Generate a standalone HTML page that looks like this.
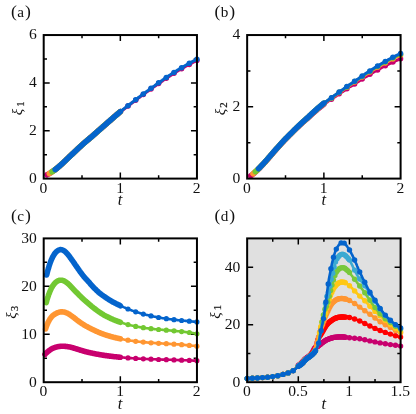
<!DOCTYPE html>
<html><head><meta charset="utf-8"><title>figure</title>
<style>
html,body{margin:0;padding:0;background:#fff;}
body{width:416px;height:414px;overflow:hidden;}
svg{display:block;will-change:transform;}
text{font-family:"Liberation Serif",serif;fill:#111;}
.n{font-size:15.6px;}
.p{font-size:15.2px;}
.pp{font-size:17.6px;}
.i{font-size:15px;font-style:italic;}
.t{font-size:16.5px;font-style:italic;}
.s{font-size:10.8px;font-style:normal;stroke:#111;stroke-width:0.2px;}
</style></head><body>
<svg width="416" height="414" viewBox="0 0 416 414">
<rect width="416" height="414" fill="#fff"/>
<clipPath id="ca"><rect x="40.50" y="31.85" width="159.65" height="149.95"/></clipPath>
<g clip-path="url(#ca)">
<rect x="43.7" y="35.05" width="153.25" height="143.55" fill="#fff"/>
<path d="M120.33,178.6v-6.0M120.33,35.05v6.0M82.01,178.6v-3.3M82.01,35.05v3.3M158.64,178.6v-3.3M158.64,35.05v3.3M43.7,130.75h6.0M196.95,130.75h-6.0M43.7,82.90h6.0M196.95,82.90h-6.0M43.7,154.67h3.3M196.95,154.67h-3.3M43.7,106.82h3.3M196.95,106.82h-3.3M43.7,58.97h3.3M196.95,58.97h-3.3" stroke="#000" stroke-width="1.5" fill="none"/>
<path d="M47.0,174.8L47.7,174.4L48.5,174.0L49.2,173.6L50.0,173.1L50.7,172.7L51.4,172.2L52.2,171.7L52.9,171.2L53.7,170.7L54.4,170.2L55.1,169.7L55.9,169.1L56.6,168.5L57.4,167.9L58.1,167.3L58.9,166.6L59.6,166.0L60.3,165.3L61.1,164.7L61.8,164.0L62.6,163.3L63.3,162.6L64.0,161.9L64.8,161.2L65.5,160.5L66.3,159.8L67.0,159.1L67.7,158.4L68.5,157.7L69.2,156.9L70.0,156.2L70.7,155.5L71.4,154.8L72.2,154.2L72.9,153.5L73.7,152.8L74.4,152.1L75.1,151.4L75.9,150.7L76.6,149.9L77.4,149.2L78.1,148.5L78.8,147.8L79.6,147.2L80.3,146.5L81.1,145.8L81.8,145.1L82.6,144.4L83.3,143.8L84.0,143.2L84.8,142.5L85.5,141.9L86.3,141.2L87.0,140.6L87.7,140.0L88.5,139.4L89.2,138.7L90.0,138.1L90.7,137.5L91.4,136.9L92.2,136.3L92.9,135.6L93.7,134.9L94.4,134.3L95.1,133.6L95.9,133.0L96.6,132.3L97.4,131.7L98.1,131.0L98.8,130.3L99.6,129.7L100.3,129.1L101.1,128.4L101.8,127.7L102.5,127.1L103.3,126.4L104.0,125.8L104.8,125.2L105.5,124.5L106.3,123.9L107.0,123.2L107.7,122.6L108.5,121.9L109.2,121.3L110.0,120.6L110.7,120.0L111.4,119.3L112.2,118.7L112.9,118.0L113.7,117.4L114.4,116.7L115.1,116.1L115.9,115.4L116.6,114.8L117.4,114.2L118.1,113.5L118.8,112.9L119.6,112.3L120.3,111.7" stroke="#c8006e" stroke-width="5.6" fill="none" stroke-linecap="round" stroke-linejoin="round"/>
<path d="M120.3,112.0L121.1,111.4L121.9,110.8L122.6,110.2L123.4,109.6L124.2,109.0L125.0,108.4L125.7,107.8L126.5,107.2L127.3,106.6L128.1,106.0L128.8,105.4L129.6,104.8L130.4,104.2L131.2,103.6L131.9,103.0L132.7,102.4L133.5,101.9L134.3,101.3L135.0,100.7L135.8,100.1L136.6,99.5L137.4,98.9L138.1,98.3L138.9,97.8L139.7,97.2L140.4,96.6L141.2,96.0L142.0,95.5L142.8,94.9L143.5,94.3L144.3,93.8L145.1,93.2L145.9,92.6L146.6,92.1L147.4,91.5L148.2,91.0L149.0,90.4L149.7,89.9L150.5,89.3L151.3,88.8L152.1,88.2L152.8,87.7L153.6,87.1L154.4,86.6L155.2,86.0L155.9,85.5L156.7,84.9L157.5,84.4L158.3,83.8L159.0,83.3L159.8,82.8L160.6,82.2L161.3,81.7L162.1,81.2L162.9,80.6L163.7,80.1L164.4,79.6L165.2,79.1L166.0,78.5L166.8,78.0L167.5,77.5L168.3,77.0L169.1,76.5L169.9,76.0L170.6,75.5L171.4,75.0L172.2,74.5L173.0,74.0L173.7,73.5L174.5,73.0L175.3,72.5L176.1,72.0L176.8,71.5L177.6,71.1L178.4,70.6L179.1,70.1L179.9,69.7L180.7,69.2L181.5,68.8L182.2,68.3L183.0,67.9L183.8,67.4L184.6,67.0L185.3,66.6L186.1,66.1L186.9,65.7L187.7,65.3L188.4,64.8L189.2,64.4L190.0,64.0L190.8,63.6L191.5,63.2L192.3,62.8L193.1,62.3L193.9,61.9L194.6,61.5L195.4,61.1L196.2,60.7L196.9,60.4" stroke="#c8006e" stroke-width="3.0" fill="none" stroke-linecap="round" stroke-linejoin="round"/>
<g fill="#c8006e"><circle cx="128.0" cy="106.1" r="2.75"/><circle cx="135.7" cy="100.2" r="2.75"/><circle cx="143.3" cy="94.5" r="2.75"/><circle cx="151.0" cy="89.0" r="2.75"/><circle cx="158.6" cy="83.6" r="2.75"/><circle cx="166.3" cy="78.3" r="2.75"/><circle cx="174.0" cy="73.3" r="2.75"/><circle cx="181.6" cy="68.7" r="2.75"/><circle cx="189.3" cy="64.4" r="2.75"/><circle cx="196.9" cy="60.4" r="2.75"/></g>
<path d="M49.3,173.5L50.0,173.1L50.7,172.7L51.5,172.2L52.2,171.7L52.9,171.2L53.6,170.8L54.3,170.3L55.0,169.7L55.8,169.2L56.5,168.6L57.2,168.0L57.9,167.4L58.6,166.8L59.3,166.2L60.1,165.6L60.8,164.9L61.5,164.3L62.2,163.6L62.9,163.0L63.6,162.3L64.4,161.6L65.1,160.9L65.8,160.3L66.5,159.6L67.2,158.9L68.0,158.2L68.7,157.5L69.4,156.8L70.1,156.1L70.8,155.4L71.5,154.8L72.3,154.1L73.0,153.4L73.7,152.8L74.4,152.1L75.1,151.4L75.8,150.7L76.6,150.0L77.3,149.3L78.0,148.6L78.7,148.0L79.4,147.3L80.1,146.6L80.9,146.0L81.6,145.3L82.3,144.7L83.0,144.0L83.7,143.4L84.5,142.8L85.2,142.2L85.9,141.6L86.6,140.9L87.3,140.3L88.0,139.7L88.8,139.1L89.5,138.5L90.2,137.9L90.9,137.3L91.6,136.8L92.3,136.1L93.1,135.5L93.8,134.8L94.5,134.2L95.2,133.6L95.9,132.9L96.7,132.3L97.4,131.6L98.1,131.0L98.8,130.4L99.5,129.8L100.2,129.1L101.0,128.5L101.7,127.9L102.4,127.2L103.1,126.6L103.8,126.0L104.5,125.4L105.3,124.7L106.0,124.1L106.7,123.5L107.4,122.9L108.1,122.2L108.8,121.6L109.6,121.0L110.3,120.3L111.0,119.7L111.7,119.1L112.4,118.4L113.2,117.8L113.9,117.2L114.6,116.5L115.3,115.9L116.0,115.3L116.7,114.7L117.5,114.1L118.2,113.5L118.9,112.9L119.6,112.3L120.3,111.7" stroke="#ff9632" stroke-width="5.6" fill="none" stroke-linecap="round" stroke-linejoin="round"/>
<path d="M52.0,171.8L52.7,171.4L53.4,170.9L54.1,170.4L54.8,169.9L55.5,169.4L56.1,168.9L56.8,168.3L57.5,167.8L58.2,167.2L58.9,166.6L59.6,166.0L60.3,165.4L61.0,164.8L61.7,164.1L62.4,163.5L63.0,162.9L63.7,162.2L64.4,161.6L65.1,160.9L65.8,160.3L66.5,159.6L67.2,158.9L67.9,158.2L68.6,157.6L69.3,156.9L69.9,156.3L70.6,155.6L71.3,155.0L72.0,154.3L72.7,153.7L73.4,153.0L74.1,152.4L74.8,151.7L75.5,151.1L76.2,150.4L76.8,149.7L77.5,149.1L78.2,148.4L78.9,147.8L79.6,147.1L80.3,146.5L81.0,145.9L81.7,145.2L82.4,144.6L83.1,144.0L83.7,143.4L84.4,142.8L85.1,142.2L85.8,141.6L86.5,141.0L87.2,140.4L87.9,139.9L88.6,139.3L89.3,138.7L90.0,138.1L90.6,137.6L91.3,137.0L92.0,136.4L92.7,135.8L93.4,135.2L94.1,134.6L94.8,133.9L95.5,133.3L96.2,132.7L96.9,132.1L97.6,131.5L98.2,130.9L98.9,130.3L99.6,129.7L100.3,129.1L101.0,128.5L101.7,127.8L102.4,127.2L103.1,126.6L103.8,126.0L104.5,125.4L105.1,124.8L105.8,124.2L106.5,123.6L107.2,123.0L107.9,122.4L108.6,121.8L109.3,121.2L110.0,120.6L110.7,120.0L111.4,119.4L112.0,118.8L112.7,118.2L113.4,117.6L114.1,117.0L114.8,116.4L115.5,115.8L116.2,115.2L116.9,114.6L117.6,114.0L118.3,113.4L118.9,112.8L119.6,112.2L120.3,111.7" stroke="#72c832" stroke-width="5.6" fill="none" stroke-linecap="round" stroke-linejoin="round"/>
<path d="M55.2,169.6L55.9,169.1L56.5,168.6L57.2,168.1L57.8,167.5L58.5,166.9L59.1,166.4L59.8,165.8L60.5,165.2L61.1,164.6L61.8,164.0L62.4,163.4L63.1,162.8L63.8,162.2L64.4,161.6L65.1,160.9L65.7,160.3L66.4,159.7L67.0,159.1L67.7,158.4L68.4,157.8L69.0,157.1L69.7,156.5L70.3,155.9L71.0,155.3L71.6,154.7L72.3,154.0L73.0,153.4L73.6,152.8L74.3,152.2L74.9,151.6L75.6,150.9L76.3,150.3L76.9,149.7L77.6,149.1L78.2,148.4L78.9,147.8L79.5,147.2L80.2,146.6L80.9,146.0L81.5,145.4L82.2,144.8L82.8,144.2L83.5,143.6L84.1,143.1L84.8,142.5L85.5,141.9L86.1,141.4L86.8,140.8L87.4,140.2L88.1,139.7L88.7,139.1L89.4,138.6L90.1,138.0L90.7,137.5L91.4,137.0L92.0,136.4L92.7,135.8L93.4,135.2L94.0,134.6L94.7,134.0L95.3,133.5L96.0,132.9L96.6,132.3L97.3,131.7L98.0,131.1L98.6,130.5L99.3,130.0L99.9,129.4L100.6,128.8L101.2,128.2L101.9,127.7L102.6,127.1L103.2,126.5L103.9,125.9L104.5,125.4L105.2,124.8L105.9,124.2L106.5,123.6L107.2,123.1L107.8,122.5L108.5,121.9L109.1,121.3L109.8,120.8L110.5,120.2L111.1,119.6L111.8,119.0L112.4,118.4L113.1,117.9L113.7,117.3L114.4,116.7L115.1,116.1L115.7,115.6L116.4,115.0L117.0,114.5L117.7,113.9L118.4,113.3L119.0,112.8L119.7,112.2L120.3,111.7" stroke="#0464cc" stroke-width="5.6" fill="none" stroke-linecap="round" stroke-linejoin="round"/>
<path d="M120.3,111.7L121.1,111.0L121.9,110.4L122.6,109.8L123.4,109.2L124.2,108.6L125.0,108.0L125.7,107.4L126.5,106.8L127.3,106.2L128.1,105.6L128.8,105.0L129.6,104.4L130.4,103.8L131.2,103.2L131.9,102.6L132.7,102.0L133.5,101.4L134.3,100.8L135.0,100.2L135.8,99.6L136.6,99.0L137.4,98.4L138.1,97.8L138.9,97.2L139.7,96.6L140.4,96.1L141.2,95.5L142.0,94.9L142.8,94.3L143.5,93.8L144.3,93.2L145.1,92.6L145.9,92.0L146.6,91.5L147.4,90.9L148.2,90.4L149.0,89.8L149.7,89.2L150.5,88.7L151.3,88.1L152.1,87.6L152.8,87.0L153.6,86.4L154.4,85.9L155.2,85.3L155.9,84.8L156.7,84.2L157.5,83.6L158.3,83.1L159.0,82.5L159.8,82.0L160.6,81.5L161.3,80.9L162.1,80.4L162.9,79.8L163.7,79.3L164.4,78.8L165.2,78.2L166.0,77.7L166.8,77.2L167.5,76.6L168.3,76.1L169.1,75.6L169.9,75.1L170.6,74.6L171.4,74.1L172.2,73.5L173.0,73.0L173.7,72.5L174.5,72.0L175.3,71.5L176.1,71.0L176.8,70.6L177.6,70.1L178.4,69.6L179.1,69.1L179.9,68.7L180.7,68.2L181.5,67.8L182.2,67.3L183.0,66.8L183.8,66.4L184.6,65.9L185.3,65.5L186.1,65.1L186.9,64.6L187.7,64.2L188.4,63.7L189.2,63.3L190.0,62.9L190.8,62.5L191.5,62.0L192.3,61.6L193.1,61.2L193.9,60.8L194.6,60.4L195.4,60.0L196.2,59.6L196.9,59.2" stroke="#0464cc" stroke-width="3.0" fill="none" stroke-linecap="round" stroke-linejoin="round"/>
<g fill="#0464cc"><circle cx="128.0" cy="105.7" r="2.75"/><circle cx="135.7" cy="99.7" r="2.75"/><circle cx="143.3" cy="93.9" r="2.75"/><circle cx="151.0" cy="88.3" r="2.75"/><circle cx="158.6" cy="82.8" r="2.75"/><circle cx="166.3" cy="77.5" r="2.75"/><circle cx="174.0" cy="72.4" r="2.75"/><circle cx="181.6" cy="67.7" r="2.75"/><circle cx="189.3" cy="63.3" r="2.75"/><circle cx="196.9" cy="59.2" r="2.75"/></g>
<rect x="43.7" y="35.05" width="153.25" height="143.55" fill="none" stroke="#000" stroke-width="2"/>
</g>
<text x="43.40" y="192.50" text-anchor="middle" class="n">0</text>
<text x="120.03" y="192.50" text-anchor="middle" class="n">1</text>
<text x="196.65" y="192.50" text-anchor="middle" class="n">2</text>
<text x="36.80" y="183.00" text-anchor="end" class="n">0</text>
<text x="36.80" y="135.15" text-anchor="end" class="n">2</text>
<text x="36.80" y="87.30" text-anchor="end" class="n">4</text>
<text x="36.80" y="39.45" text-anchor="end" class="n">6</text>
<text transform="translate(21.60,115.22) rotate(-90)" class="i">ξ<tspan class="s" dy="1.9" dx="2.0">1</tspan></text>
<text x="120.12" y="205.30" text-anchor="middle" class="t">t</text>
<text x="11.10" y="17.25" class="p"><tspan class="pp">(</tspan><tspan dx="0.3">a</tspan><tspan class="pp" dx="0.9">)</tspan></text>
<clipPath id="cb"><rect x="243.95" y="31.85" width="159.85" height="149.95"/></clipPath>
<g clip-path="url(#cb)">
<rect x="247.15" y="35.05" width="153.45" height="143.55" fill="#fff"/>
<path d="M323.88,178.6v-6.0M323.88,35.05v6.0M285.51,178.6v-3.3M285.51,35.05v3.3M362.24,178.6v-3.3M362.24,35.05v3.3M247.15,106.82h6.0M400.6,106.82h-6.0M247.15,142.71h3.3M400.6,142.71h-3.3M247.15,70.94h3.3M400.6,70.94h-3.3" stroke="#000" stroke-width="1.5" fill="none"/>
<path d="M250.6,175.9L251.3,175.3L252.1,174.8L252.8,174.2L253.6,173.6L254.3,173.0L255.0,172.3L255.8,171.7L256.5,171.0L257.3,170.3L258.0,169.6L258.7,168.9L259.5,168.2L260.2,167.4L261.0,166.6L261.7,165.9L262.4,165.1L263.2,164.3L263.9,163.5L264.7,162.6L265.4,161.8L266.1,161.0L266.9,160.1L267.6,159.3L268.4,158.4L269.1,157.6L269.8,156.7L270.6,155.9L271.3,155.0L272.1,154.1L272.8,153.3L273.5,152.4L274.3,151.5L275.0,150.7L275.8,149.9L276.5,149.1L277.2,148.2L278.0,147.4L278.7,146.6L279.5,145.8L280.2,145.0L280.9,144.1L281.7,143.3L282.4,142.5L283.2,141.7L283.9,140.9L284.6,140.1L285.4,139.4L286.1,138.6L286.9,137.9L287.6,137.1L288.3,136.4L289.1,135.6L289.8,134.9L290.6,134.2L291.3,133.4L292.0,132.7L292.8,132.0L293.5,131.2L294.3,130.5L295.0,129.7L295.7,129.0L296.5,128.3L297.2,127.6L298.0,126.9L298.7,126.2L299.4,125.5L300.2,124.8L300.9,124.1L301.7,123.4L302.4,122.7L303.2,122.0L303.9,121.4L304.6,120.7L305.4,120.1L306.1,119.5L306.9,118.9L307.6,118.3L308.3,117.6L309.1,116.9L309.8,116.2L310.6,115.5L311.3,114.8L312.0,114.2L312.8,113.5L313.5,112.8L314.3,112.2L315.0,111.6L315.7,110.9L316.5,110.3L317.2,109.7L318.0,109.0L318.7,108.4L319.4,107.8L320.2,107.2L320.9,106.6L321.7,106.0L322.4,105.4L323.1,104.8L323.9,104.2" stroke="#c8006e" stroke-width="5.6" fill="none" stroke-linecap="round" stroke-linejoin="round"/>
<path d="M323.9,104.2L324.6,103.7L325.4,103.2L326.2,102.7L327.0,102.2L327.8,101.6L328.5,101.1L329.3,100.6L330.1,100.1L330.9,99.6L331.6,99.1L332.4,98.6L333.2,98.0L333.9,97.5L334.7,97.0L335.5,96.4L336.3,95.9L337.1,95.3L337.8,94.8L338.6,94.3L339.4,93.7L340.1,93.2L340.9,92.7L341.7,92.2L342.5,91.7L343.2,91.2L344.0,90.7L344.8,90.2L345.6,89.7L346.4,89.1L347.1,88.6L347.9,88.1L348.7,87.6L349.4,87.1L350.2,86.6L351.0,86.2L351.8,85.7L352.6,85.2L353.3,84.7L354.1,84.2L354.9,83.7L355.7,83.2L356.4,82.7L357.2,82.2L358.0,81.7L358.8,81.2L359.5,80.7L360.3,80.2L361.1,79.7L361.9,79.2L362.6,78.7L363.4,78.3L364.2,77.8L364.9,77.3L365.7,76.8L366.5,76.4L367.3,75.9L368.1,75.4L368.8,75.0L369.6,74.5L370.4,74.1L371.2,73.6L371.9,73.1L372.7,72.7L373.5,72.2L374.2,71.8L375.0,71.3L375.8,70.9L376.6,70.5L377.4,70.0L378.1,69.6L378.9,69.2L379.7,68.7L380.5,68.3L381.2,67.9L382.0,67.5L382.8,67.1L383.6,66.6L384.3,66.2L385.1,65.8L385.9,65.4L386.7,65.1L387.4,64.7L388.2,64.3L389.0,63.9L389.8,63.5L390.5,63.2L391.3,62.8L392.1,62.4L392.9,62.1L393.6,61.7L394.4,61.4L395.2,61.0L396.0,60.7L396.7,60.4L397.5,60.1L398.3,59.7L399.1,59.4L399.8,59.1L400.6,58.8" stroke="#c8006e" stroke-width="3.0" fill="none" stroke-linecap="round" stroke-linejoin="round"/>
<g fill="#c8006e"><circle cx="331.5" cy="99.2" r="2.75"/><circle cx="339.2" cy="93.8" r="2.75"/><circle cx="346.9" cy="88.8" r="2.75"/><circle cx="354.6" cy="83.9" r="2.75"/><circle cx="362.2" cy="79.0" r="2.75"/><circle cx="369.9" cy="74.3" r="2.75"/><circle cx="377.6" cy="69.9" r="2.75"/><circle cx="385.3" cy="65.8" r="2.75"/><circle cx="392.9" cy="62.0" r="2.75"/><circle cx="400.6" cy="58.8" r="2.75"/></g>
<path d="M253.0,173.8L253.7,173.2L254.4,172.6L255.1,172.0L255.9,171.3L256.6,170.7L257.3,170.0L258.0,169.4L258.7,168.7L259.4,167.9L260.2,167.2L260.9,166.5L261.6,165.7L262.3,164.9L263.0,164.2L263.7,163.4L264.5,162.6L265.2,161.8L265.9,161.0L266.6,160.2L267.3,159.4L268.0,158.6L268.8,157.7L269.5,156.9L270.2,156.1L270.9,155.2L271.6,154.4L272.3,153.6L273.0,152.7L273.8,151.9L274.5,151.1L275.2,150.3L275.9,149.5L276.6,148.7L277.3,147.9L278.1,147.1L278.8,146.3L279.5,145.5L280.2,144.7L280.9,143.9L281.6,143.1L282.4,142.3L283.1,141.6L283.8,140.8L284.5,140.0L285.2,139.3L285.9,138.6L286.6,137.8L287.4,137.1L288.1,136.4L288.8,135.7L289.5,134.9L290.2,134.2L290.9,133.5L291.7,132.8L292.4,132.1L293.1,131.4L293.8,130.7L294.5,130.0L295.2,129.2L296.0,128.5L296.7,127.8L297.4,127.2L298.1,126.5L298.8,125.8L299.5,125.1L300.2,124.4L301.0,123.8L301.7,123.1L302.4,122.4L303.1,121.8L303.8,121.1L304.5,120.5L305.3,119.9L306.0,119.2L306.7,118.6L307.4,118.0L308.1,117.4L308.8,116.7L309.6,116.0L310.3,115.3L311.0,114.7L311.7,114.0L312.4,113.3L313.1,112.7L313.9,112.0L314.6,111.4L315.3,110.8L316.0,110.1L316.7,109.5L317.4,108.9L318.1,108.3L318.9,107.6L319.6,107.0L320.3,106.4L321.0,105.8L321.7,105.2L322.4,104.6L323.2,104.0L323.9,103.5" stroke="#ff9632" stroke-width="5.6" fill="none" stroke-linecap="round" stroke-linejoin="round"/>
<path d="M323.9,103.5L324.6,102.9L325.4,102.4L326.2,101.8L327.0,101.3L327.8,100.8L328.5,100.2L329.3,99.7L330.1,99.2L330.9,98.7L331.6,98.1L332.4,97.6L333.2,97.0L333.9,96.4L334.7,95.9L335.5,95.3L336.3,94.8L337.1,94.2L337.8,93.6L338.6,93.1L339.4,92.5L340.1,92.0L340.9,91.4L341.7,90.9L342.5,90.4L343.2,89.8L344.0,89.3L344.8,88.8L345.6,88.2L346.4,87.7L347.1,87.2L347.9,86.6L348.7,86.1L349.4,85.6L350.2,85.1L351.0,84.6L351.8,84.0L352.6,83.5L353.3,83.0L354.1,82.5L354.9,81.9L355.7,81.4L356.4,80.9L357.2,80.4L358.0,79.8L358.8,79.3L359.5,78.8L360.3,78.3L361.1,77.8L361.9,77.2L362.6,76.7L363.4,76.2L364.2,75.7L364.9,75.2L365.7,74.7L366.5,74.2L367.3,73.7L368.1,73.2L368.8,72.7L369.6,72.2L370.4,71.8L371.2,71.3L371.9,70.8L372.7,70.3L373.5,69.8L374.2,69.3L375.0,68.9L375.8,68.4L376.6,67.9L377.4,67.5L378.1,67.0L378.9,66.5L379.7,66.1L380.5,65.6L381.2,65.2L382.0,64.7L382.8,64.3L383.6,63.8L384.3,63.4L385.1,63.0L385.9,62.5L386.7,62.1L387.4,61.7L388.2,61.3L389.0,60.9L389.8,60.5L390.5,60.1L391.3,59.7L392.1,59.3L392.9,58.9L393.6,58.5L394.4,58.1L395.2,57.8L396.0,57.4L396.7,57.0L397.5,56.7L398.3,56.3L399.1,56.0L399.8,55.7L400.6,55.3" stroke="#ff9632" stroke-width="3.0" fill="none" stroke-linecap="round" stroke-linejoin="round"/>
<g fill="#ff9632"><circle cx="331.5" cy="98.2" r="2.75"/><circle cx="339.2" cy="92.6" r="2.75"/><circle cx="346.9" cy="87.3" r="2.75"/><circle cx="354.6" cy="82.1" r="2.75"/><circle cx="362.2" cy="77.0" r="2.75"/><circle cx="369.9" cy="72.0" r="2.75"/><circle cx="377.6" cy="67.3" r="2.75"/><circle cx="385.3" cy="62.9" r="2.75"/><circle cx="392.9" cy="58.9" r="2.75"/><circle cx="400.6" cy="55.3" r="2.75"/></g>
<path d="M255.4,171.7L256.1,171.1L256.8,170.4L257.5,169.8L258.2,169.1L258.9,168.4L259.6,167.7L260.2,167.0L260.9,166.3L261.6,165.6L262.3,164.9L263.0,164.1L263.7,163.4L264.4,162.6L265.1,161.8L265.8,161.1L266.5,160.3L267.2,159.5L267.9,158.7L268.5,157.9L269.2,157.1L269.9,156.3L270.6,155.5L271.3,154.7L272.0,153.9L272.7,153.1L273.4,152.2L274.1,151.4L274.8,150.7L275.5,149.9L276.1,149.1L276.8,148.4L277.5,147.6L278.2,146.8L278.9,146.0L279.6,145.3L280.3,144.5L281.0,143.8L281.7,143.0L282.4,142.2L283.1,141.5L283.8,140.7L284.4,140.0L285.1,139.3L285.8,138.6L286.5,137.9L287.2,137.2L287.9,136.5L288.6,135.8L289.3,135.1L290.0,134.4L290.7,133.7L291.4,133.0L292.1,132.4L292.8,131.7L293.4,131.0L294.1,130.3L294.8,129.6L295.5,128.9L296.2,128.2L296.9,127.5L297.6,126.9L298.3,126.2L299.0,125.6L299.7,124.9L300.4,124.3L301.1,123.6L301.7,123.0L302.4,122.3L303.1,121.7L303.8,121.0L304.5,120.4L305.2,119.8L305.9,119.2L306.6,118.6L307.3,118.0L308.0,117.5L308.7,116.8L309.4,116.1L310.0,115.4L310.7,114.8L311.4,114.1L312.1,113.5L312.8,112.8L313.5,112.2L314.2,111.6L314.9,111.0L315.6,110.3L316.3,109.7L317.0,109.1L317.6,108.5L318.3,107.9L319.0,107.3L319.7,106.7L320.4,106.1L321.1,105.5L321.8,104.9L322.5,104.4L323.2,103.8L323.9,103.2" stroke="#72c832" stroke-width="5.6" fill="none" stroke-linecap="round" stroke-linejoin="round"/>
<path d="M323.9,103.2L324.6,102.7L325.4,102.1L326.2,101.6L327.0,101.0L327.8,100.5L328.5,100.0L329.3,99.4L330.1,98.9L330.9,98.4L331.6,97.8L332.4,97.3L333.2,96.7L333.9,96.1L334.7,95.6L335.5,95.0L336.3,94.4L337.1,93.8L337.8,93.3L338.6,92.7L339.4,92.1L340.1,91.6L340.9,91.1L341.7,90.5L342.5,90.0L343.2,89.4L344.0,88.9L344.8,88.4L345.6,87.8L346.4,87.3L347.1,86.7L347.9,86.2L348.7,85.7L349.4,85.1L350.2,84.6L351.0,84.1L351.8,83.5L352.6,83.0L353.3,82.5L354.1,81.9L354.9,81.4L355.7,80.9L356.4,80.3L357.2,79.8L358.0,79.3L358.8,78.8L359.5,78.2L360.3,77.7L361.1,77.2L361.9,76.6L362.6,76.1L363.4,75.6L364.2,75.1L364.9,74.6L365.7,74.1L366.5,73.6L367.3,73.1L368.1,72.6L368.8,72.1L369.6,71.6L370.4,71.1L371.2,70.6L371.9,70.1L372.7,69.6L373.5,69.1L374.2,68.6L375.0,68.1L375.8,67.6L376.6,67.2L377.4,66.7L378.1,66.2L378.9,65.7L379.7,65.3L380.5,64.8L381.2,64.3L382.0,63.9L382.8,63.4L383.6,63.0L384.3,62.5L385.1,62.1L385.9,61.7L386.7,61.2L387.4,60.8L388.2,60.4L389.0,60.0L389.8,59.5L390.5,59.1L391.3,58.7L392.1,58.3L392.9,57.9L393.6,57.5L394.4,57.2L395.2,56.8L396.0,56.4L396.7,56.0L397.5,55.7L398.3,55.3L399.1,55.0L399.8,54.6L400.6,54.3" stroke="#72c832" stroke-width="3.0" fill="none" stroke-linecap="round" stroke-linejoin="round"/>
<g fill="#72c832"><circle cx="331.5" cy="97.9" r="2.75"/><circle cx="339.2" cy="92.2" r="2.75"/><circle cx="346.9" cy="86.9" r="2.75"/><circle cx="354.6" cy="81.6" r="2.75"/><circle cx="362.2" cy="76.4" r="2.75"/><circle cx="369.9" cy="71.4" r="2.75"/><circle cx="377.6" cy="66.5" r="2.75"/><circle cx="385.3" cy="62.0" r="2.75"/><circle cx="392.9" cy="57.9" r="2.75"/><circle cx="400.6" cy="54.3" r="2.75"/></g>
<path d="M258.5,168.7L259.2,168.1L259.8,167.4L260.5,166.7L261.1,166.0L261.8,165.4L262.5,164.6L263.1,163.9L263.8,163.2L264.4,162.5L265.1,161.7L265.8,161.0L266.4,160.3L267.1,159.5L267.7,158.8L268.4,158.0L269.1,157.2L269.7,156.5L270.4,155.7L271.0,154.9L271.7,154.2L272.4,153.4L273.0,152.6L273.7,151.8L274.3,151.1L275.0,150.3L275.7,149.6L276.3,148.9L277.0,148.1L277.7,147.4L278.3,146.7L279.0,145.9L279.6,145.2L280.3,144.5L281.0,143.7L281.6,143.0L282.3,142.3L282.9,141.6L283.6,140.8L284.3,140.1L284.9,139.5L285.6,138.8L286.2,138.1L286.9,137.4L287.6,136.8L288.2,136.1L288.9,135.4L289.5,134.8L290.2,134.1L290.9,133.5L291.5,132.8L292.2,132.2L292.8,131.5L293.5,130.8L294.2,130.2L294.8,129.5L295.5,128.9L296.1,128.2L296.8,127.6L297.5,126.9L298.1,126.3L298.8,125.7L299.4,125.1L300.1,124.5L300.8,123.8L301.4,123.2L302.1,122.6L302.7,122.0L303.4,121.4L304.1,120.8L304.7,120.2L305.4,119.6L306.0,119.0L306.7,118.4L307.4,117.9L308.0,117.3L308.7,116.7L309.3,116.0L310.0,115.4L310.7,114.7L311.3,114.1L312.0,113.5L312.6,112.9L313.3,112.3L314.0,111.7L314.6,111.1L315.3,110.5L316.0,109.9L316.6,109.3L317.3,108.7L317.9,108.1L318.6,107.5L319.3,107.0L319.9,106.4L320.6,105.8L321.2,105.3L321.9,104.7L322.6,104.2L323.2,103.6L323.9,103.1" stroke="#0464cc" stroke-width="5.6" fill="none" stroke-linecap="round" stroke-linejoin="round"/>
<path d="M323.9,103.1L324.6,102.5L325.4,102.0L326.2,101.4L327.0,100.9L327.8,100.3L328.5,99.8L329.3,99.2L330.1,98.7L330.9,98.2L331.6,97.6L332.4,97.1L333.2,96.5L333.9,95.9L334.7,95.3L335.5,94.8L336.3,94.2L337.1,93.6L337.8,93.0L338.6,92.4L339.4,91.9L340.1,91.3L340.9,90.8L341.7,90.2L342.5,89.7L343.2,89.2L344.0,88.6L344.8,88.1L345.6,87.5L346.4,87.0L347.1,86.4L347.9,85.9L348.7,85.3L349.4,84.8L350.2,84.3L351.0,83.7L351.8,83.2L352.6,82.7L353.3,82.1L354.1,81.6L354.9,81.0L355.7,80.5L356.4,80.0L357.2,79.4L358.0,78.9L358.8,78.4L359.5,77.8L360.3,77.3L361.1,76.8L361.9,76.2L362.6,75.7L363.4,75.2L364.2,74.7L364.9,74.1L365.7,73.6L366.5,73.1L367.3,72.6L368.1,72.1L368.8,71.6L369.6,71.1L370.4,70.6L371.2,70.1L371.9,69.6L372.7,69.1L373.5,68.6L374.2,68.1L375.0,67.6L375.8,67.1L376.6,66.6L377.4,66.1L378.1,65.7L378.9,65.2L379.7,64.7L380.5,64.2L381.2,63.8L382.0,63.3L382.8,62.9L383.6,62.4L384.3,61.9L385.1,61.5L385.9,61.1L386.7,60.6L387.4,60.2L388.2,59.7L389.0,59.3L389.8,58.9L390.5,58.5L391.3,58.1L392.1,57.7L392.9,57.3L393.6,56.9L394.4,56.5L395.2,56.1L396.0,55.7L396.7,55.3L397.5,55.0L398.3,54.6L399.1,54.2L399.8,53.9L400.6,53.5" stroke="#0464cc" stroke-width="3.0" fill="none" stroke-linecap="round" stroke-linejoin="round"/>
<g fill="#0464cc"><circle cx="331.5" cy="97.7" r="2.75"/><circle cx="339.2" cy="92.0" r="2.75"/><circle cx="346.9" cy="86.6" r="2.75"/><circle cx="354.6" cy="81.3" r="2.75"/><circle cx="362.2" cy="76.0" r="2.75"/><circle cx="369.9" cy="70.9" r="2.75"/><circle cx="377.6" cy="66.0" r="2.75"/><circle cx="385.3" cy="61.4" r="2.75"/><circle cx="392.9" cy="57.2" r="2.75"/><circle cx="400.6" cy="53.5" r="2.75"/></g>
<rect x="247.15" y="35.05" width="153.45" height="143.55" fill="none" stroke="#000" stroke-width="2"/>
</g>
<text x="246.85" y="192.50" text-anchor="middle" class="n">0</text>
<text x="323.57" y="192.50" text-anchor="middle" class="n">1</text>
<text x="400.30" y="192.50" text-anchor="middle" class="n">2</text>
<text x="240.25" y="183.00" text-anchor="end" class="n">0</text>
<text x="240.25" y="111.22" text-anchor="end" class="n">2</text>
<text x="240.25" y="39.45" text-anchor="end" class="n">4</text>
<text transform="translate(225.05,115.22) rotate(-90)" class="i">ξ<tspan class="s" dy="1.9" dx="1.0">2</tspan></text>
<text x="323.68" y="205.30" text-anchor="middle" class="t">t</text>
<text x="214.55" y="17.25" class="p"><tspan class="pp">(</tspan><tspan dx="0.3">b</tspan><tspan class="pp" dx="0.9">)</tspan></text>
<clipPath id="cc"><rect x="40.50" y="235.20" width="159.65" height="150.20"/></clipPath>
<g clip-path="url(#cc)">
<rect x="43.7" y="238.4" width="153.25" height="143.80" fill="#fff"/>
<path d="M120.33,382.2v-6.0M120.33,238.4v6.0M82.01,382.2v-3.3M82.01,238.4v3.3M158.64,382.2v-3.3M158.64,238.4v3.3M43.7,334.27h6.0M196.95,334.27h-6.0M43.7,286.33h6.0M196.95,286.33h-6.0M43.7,358.23h3.3M196.95,358.23h-3.3M43.7,310.30h3.3M196.95,310.30h-3.3M43.7,262.37h3.3M196.95,262.37h-3.3" stroke="#000" stroke-width="1.5" fill="none"/>
<path d="M45.0,354.4L45.5,353.8L45.9,353.3L46.4,352.9L46.9,352.4L47.4,352.0L47.8,351.6L48.3,351.2L48.8,350.8L49.3,350.5L49.7,350.1L50.2,349.8L50.7,349.5L51.2,349.2L51.6,348.9L52.1,348.7L52.6,348.4L53.1,348.2L53.5,348.0L54.0,347.8L54.5,347.6L54.9,347.5L55.4,347.3L55.9,347.2L56.4,347.0L56.8,346.9L57.3,346.8L57.8,346.7L58.3,346.6L58.7,346.5L59.2,346.5L59.7,346.4L60.2,346.3L60.6,346.3L61.1,346.3L61.6,346.2L62.1,346.2L62.5,346.2L63.0,346.2L63.5,346.2L63.9,346.3L64.4,346.3L64.9,346.3L65.4,346.4L65.8,346.4L66.3,346.5L66.8,346.5L67.3,346.6L67.7,346.7L68.2,346.8L68.7,346.8L69.2,346.9L69.6,347.0L70.1,347.1L70.6,347.2L71.1,347.4L71.5,347.5L72.0,347.6L72.5,347.7L73.0,347.8L73.4,348.0L73.9,348.1L74.4,348.3L74.8,348.4L75.3,348.5L75.8,348.7L76.3,348.8L76.7,349.0L77.2,349.1L77.7,349.3L78.2,349.4L78.6,349.6L79.1,349.7L79.6,349.9L80.1,350.0L80.5,350.2L81.0,350.3L81.5,350.4L82.0,350.6L82.4,350.7L82.9,350.9L83.4,351.0L83.8,351.1L84.3,351.3L84.8,351.4L85.3,351.5L85.7,351.7L86.2,351.8L86.7,351.9L87.2,352.0L87.6,352.1L88.1,352.3L88.6,352.4L89.1,352.5L89.5,352.6L90.0,352.7L90.5,352.8L91.0,352.9L91.4,353.0L91.9,353.1L92.4,353.2L92.8,353.3L93.3,353.4L93.8,353.5L94.3,353.6L94.7,353.7L95.2,353.8L95.7,353.9L96.2,354.0L96.6,354.1L97.1,354.2L97.6,354.3L98.1,354.3L98.5,354.4L99.0,354.5L99.5,354.6L100.0,354.7L100.4,354.7L100.9,354.8L101.4,354.9L101.8,355.0L102.3,355.1L102.8,355.1L103.3,355.2L103.7,355.3L104.2,355.4L104.7,355.4L105.2,355.5L105.6,355.6L106.1,355.6L106.6,355.7L107.1,355.7L107.5,355.8L108.0,355.9L108.5,355.9L109.0,356.0L109.4,356.1L109.9,356.1L110.4,356.2L110.9,356.2L111.3,356.3L111.8,356.3L112.3,356.4L112.7,356.5L113.2,356.5L113.7,356.6L114.2,356.6L114.6,356.7L115.1,356.7L115.6,356.8L116.1,356.8L116.5,356.9L117.0,356.9L117.5,357.0L118.0,357.0L118.4,357.1L118.9,357.1L119.4,357.2L119.9,357.2L120.3,357.2" stroke="#c8006e" stroke-width="5.6" fill="none" stroke-linecap="round" stroke-linejoin="round"/>
<path d="M120.3,357.2L121.1,357.3L121.9,357.4L122.6,357.5L123.4,357.5L124.2,357.6L125.0,357.7L125.7,357.7L126.5,357.8L127.3,357.8L128.1,357.9L128.8,358.0L129.6,358.0L130.4,358.1L131.2,358.1L131.9,358.2L132.7,358.2L133.5,358.3L134.3,358.3L135.0,358.4L135.8,358.4L136.6,358.5L137.4,358.5L138.1,358.6L138.9,358.6L139.7,358.7L140.4,358.7L141.2,358.7L142.0,358.8L142.8,358.8L143.5,358.9L144.3,358.9L145.1,358.9L145.9,359.0L146.6,359.0L147.4,359.0L148.2,359.1L149.0,359.1L149.7,359.1L150.5,359.2L151.3,359.2L152.1,359.2L152.8,359.3L153.6,359.3L154.4,359.3L155.2,359.3L155.9,359.4L156.7,359.4L157.5,359.4L158.3,359.4L159.0,359.5L159.8,359.5L160.6,359.5L161.3,359.5L162.1,359.6L162.9,359.6L163.7,359.6L164.4,359.6L165.2,359.7L166.0,359.7L166.8,359.7L167.5,359.7L168.3,359.8L169.1,359.8L169.9,359.8L170.6,359.8L171.4,359.8L172.2,359.9L173.0,359.9L173.7,359.9L174.5,359.9L175.3,360.0L176.1,360.0L176.8,360.0L177.6,360.0L178.4,360.1L179.1,360.1L179.9,360.1L180.7,360.1L181.5,360.2L182.2,360.2L183.0,360.2L183.8,360.2L184.6,360.3L185.3,360.3L186.1,360.3L186.9,360.3L187.7,360.4L188.4,360.4L189.2,360.4L190.0,360.5L190.8,360.5L191.5,360.5L192.3,360.5L193.1,360.6L193.9,360.6L194.6,360.6L195.4,360.7L196.2,360.7L196.9,360.7" stroke="#c8006e" stroke-width="2.6" fill="none" stroke-linecap="round" stroke-linejoin="round"/>
<g fill="#c8006e"><circle cx="128.0" cy="357.9" r="2.6"/><circle cx="135.7" cy="358.4" r="2.6"/><circle cx="143.3" cy="358.8" r="2.6"/><circle cx="151.0" cy="359.2" r="2.6"/><circle cx="158.6" cy="359.5" r="2.6"/><circle cx="166.3" cy="359.7" r="2.6"/><circle cx="174.0" cy="359.9" r="2.6"/><circle cx="181.6" cy="360.2" r="2.6"/><circle cx="189.3" cy="360.4" r="2.6"/><circle cx="196.9" cy="360.7" r="2.6"/></g>
<path d="M45.6,328.8L46.1,327.3L46.5,326.1L47.0,324.9L47.5,323.8L47.9,322.7L48.4,321.8L48.9,320.9L49.4,320.0L49.8,319.3L50.3,318.5L50.8,317.9L51.2,317.3L51.7,316.7L52.2,316.2L52.6,315.8L53.1,315.4L53.6,315.0L54.1,314.7L54.5,314.3L55.0,314.0L55.5,313.8L55.9,313.5L56.4,313.3L56.9,313.0L57.3,312.8L57.8,312.7L58.3,312.5L58.8,312.3L59.2,312.2L59.7,312.1L60.2,312.0L60.6,311.9L61.1,311.9L61.6,311.8L62.0,311.8L62.5,311.9L63.0,311.9L63.5,312.0L63.9,312.0L64.4,312.1L64.9,312.3L65.3,312.4L65.8,312.6L66.3,312.8L66.7,313.0L67.2,313.2L67.7,313.4L68.2,313.7L68.6,313.9L69.1,314.2L69.6,314.5L70.0,314.8L70.5,315.1L71.0,315.5L71.4,315.8L71.9,316.1L72.4,316.5L72.9,316.8L73.3,317.2L73.8,317.5L74.3,317.9L74.7,318.3L75.2,318.7L75.7,319.0L76.1,319.4L76.6,319.8L77.1,320.1L77.6,320.5L78.0,320.8L78.5,321.2L79.0,321.5L79.4,321.9L79.9,322.2L80.4,322.6L80.8,322.9L81.3,323.2L81.8,323.5L82.3,323.8L82.7,324.1L83.2,324.4L83.7,324.7L84.1,325.0L84.6,325.3L85.1,325.5L85.5,325.8L86.0,326.1L86.5,326.3L87.0,326.6L87.4,326.8L87.9,327.1L88.4,327.3L88.8,327.6L89.3,327.8L89.8,328.0L90.2,328.3L90.7,328.5L91.2,328.8L91.7,329.0L92.1,329.3L92.6,329.5L93.1,329.7L93.5,330.0L94.0,330.2L94.5,330.4L94.9,330.6L95.4,330.9L95.9,331.1L96.4,331.3L96.8,331.5L97.3,331.7L97.8,331.9L98.2,332.1L98.7,332.3L99.2,332.5L99.6,332.7L100.1,332.9L100.6,333.1L101.1,333.3L101.5,333.5L102.0,333.7L102.5,333.8L102.9,334.0L103.4,334.2L103.9,334.4L104.3,334.5L104.8,334.7L105.3,334.8L105.8,335.0L106.2,335.1L106.7,335.3L107.2,335.4L107.6,335.6L108.1,335.7L108.6,335.9L109.0,336.0L109.5,336.1L110.0,336.3L110.5,336.4L110.9,336.5L111.4,336.7L111.9,336.8L112.3,336.9L112.8,337.1L113.3,337.2L113.7,337.3L114.2,337.4L114.7,337.5L115.2,337.6L115.6,337.8L116.1,337.9L116.6,338.0L117.0,338.1L117.5,338.2L118.0,338.3L118.4,338.4L118.9,338.5L119.4,338.6L119.9,338.7L120.3,338.8" stroke="#ff9632" stroke-width="5.6" fill="none" stroke-linecap="round" stroke-linejoin="round"/>
<path d="M120.3,338.8L121.1,339.0L121.9,339.1L122.6,339.3L123.4,339.4L124.2,339.6L125.0,339.7L125.7,339.9L126.5,340.0L127.3,340.1L128.1,340.2L128.8,340.4L129.6,340.5L130.4,340.6L131.2,340.7L131.9,340.8L132.7,340.9L133.5,341.0L134.3,341.1L135.0,341.2L135.8,341.3L136.6,341.4L137.4,341.5L138.1,341.6L138.9,341.7L139.7,341.8L140.4,341.9L141.2,341.9L142.0,342.0L142.8,342.1L143.5,342.2L144.3,342.2L145.1,342.3L145.9,342.4L146.6,342.4L147.4,342.5L148.2,342.6L149.0,342.6L149.7,342.7L150.5,342.7L151.3,342.8L152.1,342.8L152.8,342.9L153.6,342.9L154.4,343.0L155.2,343.1L155.9,343.1L156.7,343.1L157.5,343.2L158.3,343.2L159.0,343.3L159.8,343.3L160.6,343.4L161.3,343.4L162.1,343.5L162.9,343.5L163.7,343.6L164.4,343.6L165.2,343.6L166.0,343.7L166.8,343.7L167.5,343.8L168.3,343.8L169.1,343.9L169.9,343.9L170.6,344.0L171.4,344.0L172.2,344.1L173.0,344.1L173.7,344.1L174.5,344.2L175.3,344.2L176.1,344.3L176.8,344.3L177.6,344.4L178.4,344.4L179.1,344.5L179.9,344.6L180.7,344.6L181.5,344.7L182.2,344.7L183.0,344.8L183.8,344.9L184.6,344.9L185.3,345.0L186.1,345.1L186.9,345.1L187.7,345.2L188.4,345.3L189.2,345.3L190.0,345.4L190.8,345.5L191.5,345.6L192.3,345.7L193.1,345.8L193.9,345.8L194.6,345.9L195.4,346.0L196.2,346.1L196.9,346.2" stroke="#ff9632" stroke-width="2.6" fill="none" stroke-linecap="round" stroke-linejoin="round"/>
<g fill="#ff9632"><circle cx="128.0" cy="340.2" r="2.6"/><circle cx="135.7" cy="341.3" r="2.6"/><circle cx="143.3" cy="342.1" r="2.6"/><circle cx="151.0" cy="342.8" r="2.6"/><circle cx="158.6" cy="343.3" r="2.6"/><circle cx="166.3" cy="343.7" r="2.6"/><circle cx="174.0" cy="344.2" r="2.6"/><circle cx="181.6" cy="344.7" r="2.6"/><circle cx="189.3" cy="345.4" r="2.6"/><circle cx="196.9" cy="346.2" r="2.6"/></g>
<path d="M46.2,302.6L46.7,300.9L47.1,299.4L47.6,297.9L48.1,296.4L48.5,295.1L49.0,293.8L49.5,292.6L49.9,291.4L50.4,290.4L50.9,289.3L51.3,288.4L51.8,287.5L52.3,286.7L52.7,285.9L53.2,285.3L53.7,284.6L54.1,284.0L54.6,283.5L55.1,283.0L55.5,282.5L56.0,282.1L56.5,281.7L56.9,281.4L57.4,281.1L57.9,280.9L58.3,280.7L58.8,280.5L59.3,280.3L59.7,280.2L60.2,280.2L60.7,280.2L61.1,280.2L61.6,280.2L62.1,280.3L62.5,280.4L63.0,280.5L63.4,280.7L63.9,280.9L64.4,281.1L64.8,281.3L65.3,281.6L65.8,281.9L66.2,282.2L66.7,282.6L67.2,282.9L67.6,283.3L68.1,283.7L68.6,284.1L69.0,284.6L69.5,285.0L70.0,285.5L70.4,285.9L70.9,286.4L71.4,286.9L71.8,287.4L72.3,287.9L72.8,288.4L73.2,288.9L73.7,289.4L74.2,289.9L74.6,290.4L75.1,290.9L75.6,291.4L76.0,291.9L76.5,292.4L77.0,292.8L77.4,293.3L77.9,293.8L78.4,294.3L78.8,294.7L79.3,295.2L79.8,295.7L80.2,296.1L80.7,296.6L81.2,297.0L81.6,297.5L82.1,297.9L82.6,298.4L83.0,298.8L83.5,299.2L84.0,299.7L84.4,300.1L84.9,300.5L85.4,300.9L85.8,301.3L86.3,301.7L86.8,302.1L87.2,302.5L87.7,302.9L88.2,303.3L88.6,303.7L89.1,304.1L89.6,304.5L90.0,304.9L90.5,305.3L91.0,305.7L91.4,306.1L91.9,306.5L92.4,306.8L92.8,307.2L93.3,307.6L93.8,308.0L94.2,308.3L94.7,308.7L95.2,309.0L95.6,309.4L96.1,309.7L96.5,310.1L97.0,310.4L97.5,310.8L97.9,311.1L98.4,311.4L98.9,311.8L99.3,312.1L99.8,312.4L100.3,312.7L100.7,313.0L101.2,313.3L101.7,313.6L102.1,313.9L102.6,314.2L103.1,314.5L103.5,314.8L104.0,315.1L104.5,315.3L104.9,315.6L105.4,315.8L105.9,316.1L106.3,316.3L106.8,316.5L107.3,316.8L107.7,317.0L108.2,317.2L108.7,317.5L109.1,317.7L109.6,317.9L110.1,318.1L110.5,318.4L111.0,318.6L111.5,318.8L111.9,319.0L112.4,319.2L112.9,319.4L113.3,319.6L113.8,319.8L114.3,320.0L114.7,320.2L115.2,320.4L115.7,320.6L116.1,320.7L116.6,320.9L117.1,321.1L117.5,321.3L118.0,321.5L118.5,321.6L118.9,321.8L119.4,322.0L119.9,322.1L120.3,322.3" stroke="#72c832" stroke-width="5.6" fill="none" stroke-linecap="round" stroke-linejoin="round"/>
<path d="M120.3,322.3L121.1,322.5L121.9,322.8L122.6,323.0L123.4,323.3L124.2,323.5L125.0,323.8L125.7,324.0L126.5,324.2L127.3,324.4L128.1,324.6L128.8,324.8L129.6,325.0L130.4,325.2L131.2,325.4L131.9,325.6L132.7,325.8L133.5,325.9L134.3,326.1L135.0,326.3L135.8,326.4L136.6,326.6L137.4,326.7L138.1,326.9L138.9,327.0L139.7,327.1L140.4,327.3L141.2,327.4L142.0,327.5L142.8,327.6L143.5,327.8L144.3,327.9L145.1,328.0L145.9,328.1L146.6,328.2L147.4,328.3L148.2,328.4L149.0,328.5L149.7,328.6L150.5,328.7L151.3,328.8L152.1,328.9L152.8,328.9L153.6,329.0L154.4,329.1L155.2,329.2L155.9,329.3L156.7,329.3L157.5,329.4L158.3,329.5L159.0,329.5L159.8,329.6L160.6,329.7L161.3,329.8L162.1,329.8L162.9,329.9L163.7,330.0L164.4,330.0L165.2,330.1L166.0,330.2L166.8,330.2L167.5,330.3L168.3,330.3L169.1,330.4L169.9,330.5L170.6,330.5L171.4,330.6L172.2,330.7L173.0,330.7L173.7,330.8L174.5,330.9L175.3,330.9L176.1,331.0L176.8,331.1L177.6,331.2L178.4,331.2L179.1,331.3L179.9,331.4L180.7,331.5L181.5,331.6L182.2,331.6L183.0,331.7L183.8,331.8L184.6,331.9L185.3,332.0L186.1,332.1L186.9,332.2L187.7,332.3L188.4,332.4L189.2,332.5L190.0,332.6L190.8,332.7L191.5,332.8L192.3,333.0L193.1,333.1L193.9,333.2L194.6,333.3L195.4,333.5L196.2,333.6L196.9,333.8" stroke="#72c832" stroke-width="2.6" fill="none" stroke-linecap="round" stroke-linejoin="round"/>
<g fill="#72c832"><circle cx="128.0" cy="324.6" r="2.6"/><circle cx="135.7" cy="326.4" r="2.6"/><circle cx="143.3" cy="327.7" r="2.6"/><circle cx="151.0" cy="328.7" r="2.6"/><circle cx="158.6" cy="329.5" r="2.6"/><circle cx="166.3" cy="330.2" r="2.6"/><circle cx="174.0" cy="330.8" r="2.6"/><circle cx="181.6" cy="331.6" r="2.6"/><circle cx="189.3" cy="332.5" r="2.6"/><circle cx="196.9" cy="333.8" r="2.6"/></g>
<path d="M46.6,275.0L47.1,273.2L47.5,271.5L48.0,269.8L48.5,268.2L48.9,266.7L49.4,265.2L49.8,263.9L50.3,262.6L50.8,261.3L51.2,260.2L51.7,259.1L52.2,258.0L52.6,257.1L53.1,256.3L53.6,255.5L54.0,254.7L54.5,254.0L54.9,253.4L55.4,252.8L55.9,252.3L56.3,251.8L56.8,251.4L57.3,251.0L57.7,250.7L58.2,250.4L58.7,250.1L59.1,249.9L59.6,249.8L60.0,249.7L60.5,249.6L61.0,249.6L61.4,249.7L61.9,249.8L62.4,249.9L62.8,250.1L63.3,250.3L63.8,250.6L64.2,250.9L64.7,251.2L65.1,251.6L65.6,252.0L66.1,252.5L66.5,253.0L67.0,253.5L67.5,254.0L67.9,254.5L68.4,255.1L68.9,255.7L69.3,256.3L69.8,256.9L70.2,257.6L70.7,258.2L71.2,258.8L71.6,259.5L72.1,260.1L72.6,260.8L73.0,261.4L73.5,262.1L74.0,262.8L74.4,263.5L74.9,264.2L75.3,264.8L75.8,265.5L76.3,266.2L76.7,266.9L77.2,267.5L77.7,268.2L78.1,268.9L78.6,269.5L79.1,270.2L79.5,270.8L80.0,271.5L80.4,272.1L80.9,272.7L81.4,273.4L81.8,274.0L82.3,274.6L82.8,275.2L83.2,275.8L83.7,276.4L84.2,276.9L84.6,277.5L85.1,278.0L85.5,278.5L86.0,279.0L86.5,279.5L86.9,280.0L87.4,280.5L87.9,281.0L88.3,281.5L88.8,282.1L89.3,282.6L89.7,283.1L90.2,283.7L90.6,284.2L91.1,284.7L91.6,285.3L92.0,285.8L92.5,286.3L93.0,286.8L93.4,287.3L93.9,287.7L94.4,288.2L94.8,288.7L95.3,289.1L95.8,289.6L96.2,290.0L96.7,290.5L97.1,290.9L97.6,291.3L98.1,291.7L98.5,292.2L99.0,292.6L99.5,293.0L99.9,293.4L100.4,293.7L100.9,294.1L101.3,294.4L101.8,294.8L102.2,295.1L102.7,295.4L103.2,295.8L103.6,296.1L104.1,296.4L104.6,296.7L105.0,297.0L105.5,297.3L106.0,297.6L106.4,298.0L106.9,298.3L107.3,298.6L107.8,298.9L108.3,299.2L108.7,299.5L109.2,299.8L109.7,300.1L110.1,300.4L110.6,300.7L111.1,300.9L111.5,301.2L112.0,301.5L112.4,301.8L112.9,302.0L113.4,302.3L113.8,302.5L114.3,302.7L114.8,303.0L115.2,303.2L115.7,303.4L116.2,303.7L116.6,303.9L117.1,304.1L117.5,304.3L118.0,304.6L118.5,304.8L118.9,305.0L119.4,305.2L119.9,305.4L120.3,305.7" stroke="#0464cc" stroke-width="5.6" fill="none" stroke-linecap="round" stroke-linejoin="round"/>
<path d="M120.3,305.7L121.1,306.0L121.9,306.4L122.6,306.7L123.4,307.1L124.2,307.4L125.0,307.7L125.7,308.1L126.5,308.4L127.3,308.7L128.1,309.0L128.8,309.3L129.6,309.6L130.4,309.9L131.2,310.2L131.9,310.5L132.7,310.8L133.5,311.0L134.3,311.3L135.0,311.6L135.8,311.8L136.6,312.1L137.4,312.3L138.1,312.6L138.9,312.8L139.7,313.0L140.4,313.3L141.2,313.5L142.0,313.7L142.8,313.9L143.5,314.1L144.3,314.3L145.1,314.5L145.9,314.7L146.6,314.9L147.4,315.1L148.2,315.3L149.0,315.5L149.7,315.7L150.5,315.8L151.3,316.0L152.1,316.2L152.8,316.3L153.6,316.5L154.4,316.7L155.2,316.8L155.9,317.0L156.7,317.1L157.5,317.3L158.3,317.4L159.0,317.5L159.8,317.7L160.6,317.8L161.3,317.9L162.1,318.1L162.9,318.2L163.7,318.3L164.4,318.4L165.2,318.5L166.0,318.6L166.8,318.8L167.5,318.9L168.3,319.0L169.1,319.1L169.9,319.2L170.6,319.3L171.4,319.4L172.2,319.5L173.0,319.6L173.7,319.7L174.5,319.7L175.3,319.8L176.1,319.9L176.8,320.0L177.6,320.1L178.4,320.2L179.1,320.3L179.9,320.3L180.7,320.4L181.5,320.5L182.2,320.6L183.0,320.6L183.8,320.7L184.6,320.8L185.3,320.9L186.1,320.9L186.9,321.0L187.7,321.1L188.4,321.2L189.2,321.2L190.0,321.3L190.8,321.4L191.5,321.4L192.3,321.5L193.1,321.6L193.9,321.6L194.6,321.7L195.4,321.8L196.2,321.8L196.9,321.9" stroke="#0464cc" stroke-width="2.6" fill="none" stroke-linecap="round" stroke-linejoin="round"/>
<g fill="#0464cc"><circle cx="128.0" cy="309.0" r="2.6"/><circle cx="135.7" cy="311.8" r="2.6"/><circle cx="143.3" cy="314.1" r="2.6"/><circle cx="151.0" cy="315.9" r="2.6"/><circle cx="158.6" cy="317.5" r="2.6"/><circle cx="166.3" cy="318.7" r="2.6"/><circle cx="174.0" cy="319.7" r="2.6"/><circle cx="181.6" cy="320.5" r="2.6"/><circle cx="189.3" cy="321.2" r="2.6"/><circle cx="196.9" cy="321.9" r="2.6"/></g>
<rect x="43.7" y="238.4" width="153.25" height="143.80" fill="none" stroke="#000" stroke-width="2"/>
</g>
<text x="43.40" y="396.10" text-anchor="middle" class="n">0</text>
<text x="120.03" y="396.10" text-anchor="middle" class="n">1</text>
<text x="196.65" y="396.10" text-anchor="middle" class="n">2</text>
<text x="36.80" y="386.60" text-anchor="end" class="n">0</text>
<text x="36.80" y="338.67" text-anchor="end" class="n">10</text>
<text x="36.80" y="290.73" text-anchor="end" class="n">20</text>
<text x="36.80" y="242.80" text-anchor="end" class="n">30</text>
<text transform="translate(16.10,318.70) rotate(-90)" class="i">ξ<tspan class="s" dy="1.9" dx="1.0">3</tspan></text>
<text x="120.12" y="408.90" text-anchor="middle" class="t">t</text>
<text x="11.10" y="220.60" class="p"><tspan class="pp">(</tspan><tspan dx="0.3">c</tspan><tspan class="pp" dx="0.9">)</tspan></text>
<clipPath id="cd"><rect x="243.95" y="235.20" width="159.85" height="150.20"/></clipPath>
<g clip-path="url(#cd)">
<rect x="247.15" y="238.4" width="153.45" height="143.80" fill="#e0e0e0"/>
<path d="M298.30,382.2v-6.0M298.30,238.4v6.0M349.45,382.2v-6.0M349.45,238.4v6.0M272.73,382.2v-3.3M272.73,238.4v3.3M323.88,382.2v-3.3M323.88,238.4v3.3M375.03,382.2v-3.3M375.03,238.4v3.3M247.15,324.68h6.0M400.6,324.68h-6.0M247.15,267.16h6.0M400.6,267.16h-6.0M247.15,353.44h3.3M400.6,353.44h-3.3M247.15,295.92h3.3M400.6,295.92h-3.3" stroke="#000" stroke-width="1.5" fill="none"/>
<path d="M247.5,378.5L247.9,378.5L248.3,378.5L248.7,378.4L249.0,378.4L249.4,378.4L249.8,378.4L250.2,378.4L250.6,378.3L251.0,378.3L251.3,378.3L251.7,378.3L252.1,378.3L252.5,378.2L252.9,378.2L253.3,378.2L253.6,378.2L254.0,378.2L254.4,378.1L254.8,378.1L255.2,378.1L255.6,378.1L255.9,378.0L256.3,378.0L256.7,378.0L257.1,378.0L257.5,378.0L257.9,377.9L258.2,377.9L258.6,377.9L259.0,377.9L259.4,377.8L259.8,377.8L260.2,377.8L260.5,377.8L260.9,377.7L261.3,377.7L261.7,377.7L262.1,377.6L262.5,377.6L262.8,377.6L263.2,377.6L263.6,377.5L264.0,377.5L264.4,377.5L264.8,377.4L265.2,377.4L265.5,377.4L265.9,377.3L266.3,377.3L266.7,377.3L267.1,377.2L267.5,377.2L267.8,377.2L268.2,377.1L268.6,377.1L269.0,377.1L269.4,377.0L269.8,377.0L270.1,376.9L270.5,376.9L270.9,376.8L271.3,376.8L271.7,376.7L272.1,376.7L272.4,376.6L272.8,376.6L273.2,376.5L273.6,376.5L274.0,376.4L274.4,376.4L274.7,376.3L275.1,376.2L275.5,376.2L275.9,376.1L276.3,376.0L276.7,375.9L277.0,375.9L277.4,375.8L277.8,375.7L278.2,375.6L278.6,375.5L279.0,375.4L279.3,375.3L279.7,375.2L280.1,375.2L280.5,375.1L280.9,375.0L281.3,374.9L281.7,374.8L282.0,374.7L282.4,374.6L282.8,374.5L283.2,374.3L283.6,374.2L284.0,374.1L284.3,374.0L284.7,373.9L285.1,373.8L285.5,373.7L285.9,373.6L286.3,373.5L286.6,373.4L287.0,373.2L287.4,373.1L287.8,373.0L288.2,372.9L288.6,372.7L288.9,372.6L289.3,372.4L289.7,372.3L290.1,372.1L290.5,372.0L290.9,371.8L291.2,371.6L291.6,371.5L292.0,371.3L292.4,371.1L292.8,370.9L293.2,370.7L293.5,370.4L293.9,370.1L294.3,369.8L294.7,369.5L295.1,369.1L295.5,368.6L295.8,368.2L296.2,367.7L296.6,367.2L297.0,366.8L297.4,366.3L297.8,366.0L298.1,365.6L298.5,365.3L298.9,365.0L299.3,364.7L299.7,364.5L300.1,364.2L300.5,363.9L300.8,363.5L301.2,363.2L301.6,362.8L302.0,362.3L302.4,361.9L302.8,361.5L303.1,361.0L303.5,360.6L303.9,360.2L304.3,359.7L304.7,359.3L305.1,359.0L305.4,358.6L305.8,358.4L306.2,358.1L306.6,357.8L307.0,357.6L307.4,357.3L307.7,357.1L308.1,356.8L308.5,356.5L308.9,356.2L309.3,355.9L309.7,355.6L310.0,355.2L310.4,354.9L310.8,354.6L311.2,354.1L311.6,353.6L312.0,353.0L312.3,352.4L312.7,351.6L313.1,350.9L313.5,350.1L313.9,349.4L314.3,348.7L314.6,348.2L315.0,347.7L315.4,347.5L315.8,347.3L316.2,347.1L316.6,347.0L317.0,346.9L317.3,346.7L317.7,346.5L318.1,346.2L318.5,345.9L318.9,345.6L319.3,345.3L319.6,345.0L320.0,344.7L320.4,344.3L320.8,344.0L321.2,343.7L321.6,343.4L321.9,343.0L322.3,342.7L322.7,342.4L323.1,342.1L323.5,341.8L323.9,341.6L324.2,341.3L324.6,341.0L325.0,340.8L325.4,340.6L325.8,340.4L326.2,340.2L326.5,340.0L326.9,339.8L327.3,339.6L327.7,339.4L328.1,339.2L328.5,339.1L328.8,338.9L329.2,338.8L329.6,338.7L330.0,338.5L330.4,338.4L330.8,338.2L331.1,338.1L331.5,338.0L331.9,337.9L332.3,337.8L332.7,337.7L333.1,337.6L333.5,337.5L333.8,337.4L334.2,337.4L334.6,337.3L335.0,337.3L335.4,337.2L335.8,337.2L336.1,337.1L336.5,337.1L336.9,337.1L337.3,337.0L337.7,337.0L338.1,337.0L338.4,337.0L338.8,337.0L339.2,336.9L339.6,336.9L340.0,336.9L340.4,336.9L340.7,336.9L341.1,336.9L341.5,336.9L341.9,336.9L342.3,336.9L342.7,337.0L343.0,337.0L343.4,337.0L343.8,337.0L344.2,337.0L344.6,337.1L345.0,337.1L345.3,337.1L345.7,337.2L346.1,337.2L346.5,337.2L346.9,337.3L347.3,337.3L347.6,337.4L348.0,337.5L348.4,337.5L348.8,337.6L349.2,337.6L349.6,337.7L350.0,337.7L350.3,337.8L350.7,337.8L351.1,337.9L351.5,337.9L351.9,338.0L352.3,338.0L352.6,338.0L353.0,338.1L353.4,338.1L353.8,338.2L354.2,338.2L354.6,338.2L354.9,338.3L355.3,338.3L355.7,338.4L356.1,338.4L356.5,338.4L356.9,338.5L357.2,338.5L357.6,338.6L358.0,338.6L358.4,338.7L358.8,338.7L359.2,338.8L359.5,338.8L359.9,338.9L360.3,338.9L360.7,339.0L361.1,339.1L361.5,339.1L361.8,339.2L362.2,339.3L362.6,339.3L363.0,339.4L363.4,339.5L363.8,339.6L364.1,339.7L364.5,339.7L364.9,339.8L365.3,339.9L365.7,340.0L366.1,340.1L366.4,340.2L366.8,340.3L367.2,340.3L367.6,340.4L368.0,340.5L368.4,340.6L368.8,340.7L369.1,340.8L369.5,340.8L369.9,340.9L370.3,341.0L370.7,341.1L371.1,341.1L371.4,341.2L371.8,341.3L372.2,341.4L372.6,341.4L373.0,341.5L373.4,341.6L373.7,341.7L374.1,341.7L374.5,341.8L374.9,341.9L375.3,342.0L375.7,342.0L376.0,342.1L376.4,342.2L376.8,342.2L377.2,342.3L377.6,342.4L378.0,342.5L378.3,342.5L378.7,342.6L379.1,342.7L379.5,342.7L379.9,342.8L380.3,342.9L380.6,342.9L381.0,343.0L381.4,343.1L381.8,343.1L382.2,343.2L382.6,343.3L382.9,343.3L383.3,343.4L383.7,343.5L384.1,343.5L384.5,343.6L384.9,343.7L385.3,343.7L385.6,343.8L386.0,343.9L386.4,343.9L386.8,344.0L387.2,344.1L387.6,344.1L387.9,344.2L388.3,344.2L388.7,344.3L389.1,344.4L389.5,344.4L389.9,344.5L390.2,344.5L390.6,344.6L391.0,344.7L391.4,344.7L391.8,344.8L392.2,344.8L392.5,344.9L392.9,345.0L393.3,345.0L393.7,345.1L394.1,345.1L394.5,345.2L394.8,345.3L395.2,345.3L395.6,345.4L396.0,345.4L396.4,345.5L396.8,345.5L397.1,345.6L397.5,345.6L397.9,345.7L398.3,345.8L398.7,345.8L399.1,345.9L399.4,345.9L399.8,346.0L400.2,346.0L400.6,346.1" stroke="#c8006e" stroke-width="2.6" fill="none" stroke-linecap="round" stroke-linejoin="round"/>
<g fill="#c8006e"><circle cx="247.2" cy="378.5" r="2.7"/><circle cx="252.3" cy="378.3" r="2.7"/><circle cx="257.4" cy="378.0" r="2.7"/><circle cx="262.5" cy="377.6" r="2.7"/><circle cx="267.6" cy="377.2" r="2.7"/><circle cx="272.7" cy="376.6" r="2.7"/><circle cx="277.8" cy="375.7" r="2.7"/><circle cx="283.0" cy="374.4" r="2.7"/><circle cx="288.1" cy="372.9" r="2.7"/><circle cx="293.2" cy="370.6" r="2.7"/><circle cx="298.3" cy="365.5" r="2.7"/><circle cx="299.0" cy="364.9" r="2.7"/><circle cx="299.8" cy="364.4" r="2.7"/><circle cx="300.6" cy="363.7" r="2.7"/><circle cx="301.5" cy="362.9" r="2.7"/><circle cx="302.3" cy="362.0" r="2.7"/><circle cx="303.1" cy="361.1" r="2.7"/><circle cx="303.9" cy="360.1" r="2.7"/><circle cx="304.7" cy="359.3" r="2.7"/><circle cx="305.5" cy="358.6" r="2.7"/><circle cx="306.4" cy="358.0" r="2.7"/><circle cx="307.2" cy="357.5" r="2.7"/><circle cx="308.0" cy="356.9" r="2.7"/><circle cx="308.8" cy="356.3" r="2.7"/><circle cx="309.6" cy="355.6" r="2.7"/><circle cx="310.5" cy="354.9" r="2.7"/><circle cx="311.3" cy="354.0" r="2.7"/><circle cx="312.1" cy="352.8" r="2.7"/><circle cx="312.9" cy="351.3" r="2.7"/><circle cx="313.7" cy="349.7" r="2.7"/><circle cx="314.5" cy="348.3" r="2.7"/><circle cx="315.4" cy="347.5" r="2.7"/><circle cx="316.2" cy="347.1" r="2.7"/><circle cx="317.0" cy="346.8" r="2.7"/><circle cx="317.8" cy="346.4" r="2.7"/><circle cx="318.6" cy="345.8" r="2.7"/><circle cx="319.5" cy="345.1" r="2.7"/><circle cx="320.3" cy="344.4" r="2.7"/><circle cx="321.1" cy="343.7" r="2.7"/><circle cx="321.9" cy="343.1" r="2.7"/><circle cx="322.7" cy="342.4" r="2.7"/><circle cx="323.6" cy="341.8" r="2.7"/><circle cx="324.4" cy="341.2" r="2.7"/><circle cx="325.2" cy="340.7" r="2.7"/><circle cx="326.0" cy="340.2" r="2.7"/><circle cx="326.8" cy="339.8" r="2.7"/><circle cx="327.6" cy="339.4" r="2.7"/><circle cx="328.5" cy="339.1" r="2.7"/><circle cx="329.3" cy="338.8" r="2.7"/><circle cx="330.1" cy="338.5" r="2.7"/><circle cx="330.9" cy="338.2" r="2.7"/><circle cx="331.7" cy="337.9" r="2.7"/><circle cx="332.6" cy="337.7" r="2.7"/><circle cx="333.4" cy="337.5" r="2.7"/><circle cx="334.2" cy="337.4" r="2.7"/><circle cx="335.0" cy="337.3" r="2.7"/><circle cx="335.8" cy="337.2" r="2.7"/><circle cx="336.6" cy="337.1" r="2.7"/><circle cx="337.5" cy="337.0" r="2.7"/><circle cx="338.3" cy="337.0" r="2.7"/><circle cx="339.1" cy="336.9" r="2.7"/><circle cx="339.9" cy="336.9" r="2.7"/><circle cx="340.7" cy="336.9" r="2.7"/><circle cx="341.6" cy="336.9" r="2.7"/><circle cx="342.4" cy="336.9" r="2.7"/><circle cx="343.2" cy="337.0" r="2.7"/><circle cx="344.0" cy="337.0" r="2.7"/><circle cx="344.8" cy="337.1" r="2.7"/><circle cx="345.6" cy="337.2" r="2.7"/><circle cx="349.5" cy="337.7" r="2.7"/><circle cx="354.6" cy="338.2" r="2.7"/><circle cx="359.7" cy="338.8" r="2.7"/><circle cx="364.8" cy="339.8" r="2.7"/><circle cx="369.9" cy="340.9" r="2.7"/><circle cx="375.0" cy="341.9" r="2.7"/><circle cx="380.1" cy="342.9" r="2.7"/><circle cx="385.3" cy="343.7" r="2.7"/><circle cx="390.4" cy="344.6" r="2.7"/><circle cx="395.5" cy="345.3" r="2.7"/><circle cx="400.6" cy="346.1" r="2.7"/></g>
<path d="M247.5,378.5L247.9,378.5L248.3,378.5L248.7,378.4L249.0,378.4L249.4,378.4L249.8,378.4L250.2,378.4L250.6,378.3L251.0,378.3L251.3,378.3L251.7,378.3L252.1,378.3L252.5,378.2L252.9,378.2L253.3,378.2L253.6,378.2L254.0,378.2L254.4,378.1L254.8,378.1L255.2,378.1L255.6,378.1L255.9,378.0L256.3,378.0L256.7,378.0L257.1,378.0L257.5,378.0L257.9,377.9L258.2,377.9L258.6,377.9L259.0,377.9L259.4,377.8L259.8,377.8L260.2,377.8L260.5,377.8L260.9,377.7L261.3,377.7L261.7,377.7L262.1,377.6L262.5,377.6L262.8,377.6L263.2,377.6L263.6,377.5L264.0,377.5L264.4,377.5L264.8,377.4L265.2,377.4L265.5,377.4L265.9,377.3L266.3,377.3L266.7,377.3L267.1,377.2L267.5,377.2L267.8,377.2L268.2,377.1L268.6,377.1L269.0,377.1L269.4,377.0L269.8,377.0L270.1,376.9L270.5,376.9L270.9,376.8L271.3,376.8L271.7,376.7L272.1,376.7L272.4,376.6L272.8,376.6L273.2,376.5L273.6,376.5L274.0,376.4L274.4,376.4L274.7,376.3L275.1,376.2L275.5,376.2L275.9,376.1L276.3,376.0L276.7,375.9L277.0,375.9L277.4,375.8L277.8,375.7L278.2,375.6L278.6,375.5L279.0,375.4L279.3,375.3L279.7,375.2L280.1,375.2L280.5,375.1L280.9,375.0L281.3,374.9L281.7,374.8L282.0,374.7L282.4,374.6L282.8,374.5L283.2,374.3L283.6,374.2L284.0,374.1L284.3,374.0L284.7,373.9L285.1,373.8L285.5,373.7L285.9,373.6L286.3,373.5L286.6,373.4L287.0,373.2L287.4,373.1L287.8,373.0L288.2,372.9L288.6,372.7L288.9,372.6L289.3,372.4L289.7,372.3L290.1,372.1L290.5,372.0L290.9,371.8L291.2,371.6L291.6,371.5L292.0,371.3L292.4,371.1L292.8,370.9L293.2,370.7L293.5,370.4L293.9,370.1L294.3,369.8L294.7,369.5L295.1,369.1L295.5,368.8L295.8,368.4L296.2,368.0L296.6,367.6L297.0,367.3L297.4,366.9L297.8,366.6L298.1,366.2L298.5,366.0L298.9,365.7L299.3,365.4L299.7,365.2L300.1,365.0L300.5,364.7L300.8,364.4L301.2,364.1L301.6,363.8L302.0,363.5L302.4,363.1L302.8,362.7L303.1,362.3L303.5,361.8L303.9,361.4L304.3,361.0L304.7,360.5L305.1,360.1L305.4,359.7L305.8,359.3L306.2,358.9L306.6,358.6L307.0,358.3L307.4,358.0L307.7,357.8L308.1,357.4L308.5,357.1L308.9,356.8L309.3,356.4L309.7,356.0L310.0,355.6L310.4,355.2L310.8,354.8L311.2,354.3L311.6,353.9L312.0,353.6L312.3,353.1L312.7,352.7L313.1,352.3L313.5,351.8L313.9,351.2L314.3,350.6L314.6,350.0L315.0,349.2L315.4,348.4L315.8,347.5L316.2,346.3L316.6,345.1L317.0,343.6L317.3,342.0L317.7,340.6L318.1,339.3L318.5,338.1L318.9,337.3L319.3,336.7L319.6,336.2L320.0,335.8L320.4,335.3L320.8,334.7L321.2,334.0L321.6,333.4L321.9,332.7L322.3,332.0L322.7,331.3L323.1,330.6L323.5,329.9L323.9,329.3L324.2,328.6L324.6,328.0L325.0,327.4L325.4,326.8L325.8,326.3L326.2,325.7L326.5,325.2L326.9,324.7L327.3,324.2L327.7,323.8L328.1,323.4L328.5,323.0L328.8,322.6L329.2,322.3L329.6,321.9L330.0,321.6L330.4,321.3L330.8,321.0L331.1,320.7L331.5,320.5L331.9,320.2L332.3,319.9L332.7,319.7L333.1,319.4L333.5,319.2L333.8,319.0L334.2,318.8L334.6,318.6L335.0,318.4L335.4,318.2L335.8,318.1L336.1,318.0L336.5,317.8L336.9,317.7L337.3,317.6L337.7,317.5L338.1,317.4L338.4,317.3L338.8,317.3L339.2,317.2L339.6,317.1L340.0,317.1L340.4,317.1L340.7,317.0L341.1,317.0L341.5,317.0L341.9,317.0L342.3,317.0L342.7,317.0L343.0,317.0L343.4,317.0L343.8,317.0L344.2,317.1L344.6,317.1L345.0,317.1L345.3,317.1L345.7,317.1L346.1,317.1L346.5,317.2L346.9,317.2L347.3,317.2L347.6,317.3L348.0,317.3L348.4,317.4L348.8,317.4L349.2,317.5L349.6,317.6L350.0,317.6L350.3,317.7L350.7,317.8L351.1,317.9L351.5,318.0L351.9,318.1L352.3,318.2L352.6,318.3L353.0,318.5L353.4,318.6L353.8,318.8L354.2,318.9L354.6,319.0L354.9,319.2L355.3,319.3L355.7,319.5L356.1,319.6L356.5,319.7L356.9,319.9L357.2,320.0L357.6,320.2L358.0,320.3L358.4,320.5L358.8,320.6L359.2,320.8L359.5,321.0L359.9,321.1L360.3,321.3L360.7,321.5L361.1,321.6L361.5,321.8L361.8,322.0L362.2,322.2L362.6,322.4L363.0,322.6L363.4,322.8L363.8,323.0L364.1,323.2L364.5,323.4L364.9,323.6L365.3,323.7L365.7,323.9L366.1,324.1L366.4,324.3L366.8,324.5L367.2,324.7L367.6,324.9L368.0,325.1L368.4,325.3L368.8,325.5L369.1,325.6L369.5,325.8L369.9,326.0L370.3,326.2L370.7,326.4L371.1,326.5L371.4,326.7L371.8,326.9L372.2,327.1L372.6,327.3L373.0,327.4L373.4,327.6L373.7,327.8L374.1,327.9L374.5,328.1L374.9,328.3L375.3,328.5L375.7,328.6L376.0,328.8L376.4,329.0L376.8,329.1L377.2,329.3L377.6,329.5L378.0,329.6L378.3,329.8L378.7,329.9L379.1,330.1L379.5,330.2L379.9,330.4L380.3,330.5L380.6,330.7L381.0,330.8L381.4,331.0L381.8,331.1L382.2,331.3L382.6,331.4L382.9,331.6L383.3,331.7L383.7,331.9L384.1,332.0L384.5,332.1L384.9,332.3L385.3,332.4L385.6,332.5L386.0,332.7L386.4,332.8L386.8,332.9L387.2,333.1L387.6,333.2L387.9,333.3L388.3,333.5L388.7,333.6L389.1,333.7L389.5,333.8L389.9,334.0L390.2,334.1L390.6,334.2L391.0,334.3L391.4,334.4L391.8,334.6L392.2,334.7L392.5,334.8L392.9,334.9L393.3,335.0L393.7,335.2L394.1,335.3L394.5,335.4L394.8,335.5L395.2,335.6L395.6,335.7L396.0,335.8L396.4,335.9L396.8,336.0L397.1,336.2L397.5,336.3L397.9,336.4L398.3,336.5L398.7,336.6L399.1,336.7L399.4,336.8L399.8,336.9L400.2,337.0L400.6,337.1" stroke="#ff0000" stroke-width="2.6" fill="none" stroke-linecap="round" stroke-linejoin="round"/>
<g fill="#ff0000"><circle cx="247.2" cy="378.5" r="2.7"/><circle cx="252.3" cy="378.3" r="2.7"/><circle cx="257.4" cy="378.0" r="2.7"/><circle cx="262.5" cy="377.6" r="2.7"/><circle cx="267.6" cy="377.2" r="2.7"/><circle cx="272.7" cy="376.6" r="2.7"/><circle cx="277.8" cy="375.7" r="2.7"/><circle cx="283.0" cy="374.4" r="2.7"/><circle cx="288.1" cy="372.9" r="2.7"/><circle cx="293.2" cy="370.6" r="2.7"/><circle cx="298.3" cy="366.1" r="2.7"/><circle cx="299.5" cy="365.3" r="2.7"/><circle cx="300.8" cy="364.5" r="2.7"/><circle cx="302.0" cy="363.5" r="2.7"/><circle cx="303.2" cy="362.2" r="2.7"/><circle cx="304.4" cy="360.8" r="2.7"/><circle cx="305.7" cy="359.5" r="2.7"/><circle cx="306.9" cy="358.4" r="2.7"/><circle cx="308.1" cy="357.5" r="2.7"/><circle cx="309.3" cy="356.3" r="2.7"/><circle cx="310.6" cy="355.0" r="2.7"/><circle cx="311.5" cy="354.0" r="2.7"/><circle cx="312.3" cy="353.2" r="2.7"/><circle cx="313.1" cy="352.2" r="2.7"/><circle cx="314.0" cy="351.1" r="2.7"/><circle cx="314.8" cy="349.7" r="2.7"/><circle cx="315.6" cy="348.0" r="2.7"/><circle cx="316.4" cy="345.6" r="2.7"/><circle cx="317.2" cy="342.5" r="2.7"/><circle cx="318.0" cy="339.4" r="2.7"/><circle cx="318.9" cy="337.3" r="2.7"/><circle cx="319.7" cy="336.1" r="2.7"/><circle cx="320.5" cy="335.1" r="2.7"/><circle cx="321.3" cy="333.8" r="2.7"/><circle cx="322.1" cy="332.4" r="2.7"/><circle cx="323.0" cy="330.9" r="2.7"/><circle cx="323.8" cy="329.4" r="2.7"/><circle cx="324.6" cy="328.1" r="2.7"/><circle cx="325.4" cy="326.8" r="2.7"/><circle cx="326.2" cy="325.6" r="2.7"/><circle cx="327.0" cy="324.5" r="2.7"/><circle cx="327.9" cy="323.6" r="2.7"/><circle cx="328.7" cy="322.8" r="2.7"/><circle cx="329.5" cy="322.0" r="2.7"/><circle cx="330.3" cy="321.4" r="2.7"/><circle cx="331.1" cy="320.7" r="2.7"/><circle cx="332.0" cy="320.2" r="2.7"/><circle cx="332.8" cy="319.6" r="2.7"/><circle cx="333.6" cy="319.1" r="2.7"/><circle cx="334.4" cy="318.7" r="2.7"/><circle cx="335.2" cy="318.3" r="2.7"/><circle cx="336.1" cy="318.0" r="2.7"/><circle cx="336.9" cy="317.7" r="2.7"/><circle cx="337.7" cy="317.5" r="2.7"/><circle cx="338.5" cy="317.3" r="2.7"/><circle cx="339.3" cy="317.2" r="2.7"/><circle cx="340.1" cy="317.1" r="2.7"/><circle cx="341.0" cy="317.0" r="2.7"/><circle cx="341.8" cy="317.0" r="2.7"/><circle cx="342.6" cy="317.0" r="2.7"/><circle cx="343.4" cy="317.0" r="2.7"/><circle cx="344.2" cy="317.1" r="2.7"/><circle cx="345.1" cy="317.1" r="2.7"/><circle cx="345.9" cy="317.1" r="2.7"/><circle cx="349.5" cy="317.5" r="2.7"/><circle cx="354.6" cy="319.0" r="2.7"/><circle cx="359.7" cy="321.0" r="2.7"/><circle cx="364.8" cy="323.5" r="2.7"/><circle cx="369.9" cy="326.0" r="2.7"/><circle cx="375.0" cy="328.4" r="2.7"/><circle cx="380.1" cy="330.5" r="2.7"/><circle cx="385.3" cy="332.4" r="2.7"/><circle cx="390.4" cy="334.1" r="2.7"/><circle cx="395.5" cy="335.7" r="2.7"/><circle cx="400.6" cy="337.1" r="2.7"/></g>
<path d="M247.5,378.5L247.9,378.5L248.3,378.5L248.7,378.4L249.0,378.4L249.4,378.4L249.8,378.4L250.2,378.4L250.6,378.3L251.0,378.3L251.3,378.3L251.7,378.3L252.1,378.3L252.5,378.2L252.9,378.2L253.3,378.2L253.6,378.2L254.0,378.2L254.4,378.1L254.8,378.1L255.2,378.1L255.6,378.1L255.9,378.0L256.3,378.0L256.7,378.0L257.1,378.0L257.5,378.0L257.9,377.9L258.2,377.9L258.6,377.9L259.0,377.9L259.4,377.8L259.8,377.8L260.2,377.8L260.5,377.8L260.9,377.7L261.3,377.7L261.7,377.7L262.1,377.6L262.5,377.6L262.8,377.6L263.2,377.6L263.6,377.5L264.0,377.5L264.4,377.5L264.8,377.4L265.2,377.4L265.5,377.4L265.9,377.3L266.3,377.3L266.7,377.3L267.1,377.2L267.5,377.2L267.8,377.2L268.2,377.1L268.6,377.1L269.0,377.1L269.4,377.0L269.8,377.0L270.1,376.9L270.5,376.9L270.9,376.8L271.3,376.8L271.7,376.7L272.1,376.7L272.4,376.6L272.8,376.6L273.2,376.5L273.6,376.5L274.0,376.4L274.4,376.4L274.7,376.3L275.1,376.2L275.5,376.2L275.9,376.1L276.3,376.0L276.7,375.9L277.0,375.9L277.4,375.8L277.8,375.7L278.2,375.6L278.6,375.5L279.0,375.4L279.3,375.3L279.7,375.2L280.1,375.2L280.5,375.1L280.9,375.0L281.3,374.9L281.7,374.8L282.0,374.7L282.4,374.6L282.8,374.5L283.2,374.3L283.6,374.2L284.0,374.1L284.3,374.0L284.7,373.9L285.1,373.8L285.5,373.7L285.9,373.6L286.3,373.5L286.6,373.4L287.0,373.2L287.4,373.1L287.8,373.0L288.2,372.9L288.6,372.7L288.9,372.6L289.3,372.4L289.7,372.3L290.1,372.1L290.5,372.0L290.9,371.8L291.2,371.6L291.6,371.5L292.0,371.3L292.4,371.1L292.8,370.9L293.2,370.7L293.5,370.4L293.9,370.1L294.3,369.8L294.7,369.5L295.1,369.1L295.5,368.8L295.8,368.4L296.2,368.0L296.6,367.6L297.0,367.3L297.4,366.9L297.8,366.6L298.1,366.2L298.5,366.0L298.9,365.7L299.3,365.4L299.7,365.2L300.1,365.0L300.5,364.7L300.8,364.4L301.2,364.1L301.6,363.8L302.0,363.5L302.4,363.1L302.8,362.7L303.1,362.3L303.5,361.8L303.9,361.4L304.3,361.0L304.7,360.5L305.1,360.1L305.4,359.7L305.8,359.3L306.2,358.9L306.6,358.6L307.0,358.3L307.4,358.0L307.7,357.8L308.1,357.6L308.5,357.3L308.9,357.0L309.3,356.8L309.7,356.5L310.0,356.2L310.4,355.9L310.8,355.5L311.2,355.2L311.6,354.9L312.0,354.6L312.3,354.2L312.7,353.8L313.1,353.3L313.5,352.8L313.9,352.2L314.3,351.6L314.6,350.8L315.0,350.0L315.4,349.1L315.8,348.0L316.2,346.7L316.6,345.4L317.0,344.1L317.3,342.5L317.7,340.9L318.1,339.1L318.5,337.2L318.9,335.3L319.3,333.5L319.6,331.8L320.0,330.3L320.4,329.1L320.8,328.1L321.2,327.3L321.6,326.5L321.9,325.8L322.3,325.1L322.7,324.3L323.1,323.2L323.5,322.0L323.9,320.8L324.2,319.7L324.6,318.6L325.0,317.5L325.4,316.5L325.8,315.5L326.2,314.6L326.5,313.8L326.9,313.0L327.3,312.2L327.7,311.4L328.1,310.6L328.5,309.8L328.8,308.9L329.2,308.1L329.6,307.2L330.0,306.5L330.4,305.8L330.8,305.2L331.1,304.7L331.5,304.2L331.9,303.7L332.3,303.3L332.7,302.8L333.1,302.4L333.5,302.0L333.8,301.6L334.2,301.2L334.6,300.9L335.0,300.6L335.4,300.4L335.8,300.1L336.1,299.9L336.5,299.7L336.9,299.5L337.3,299.3L337.7,299.1L338.1,299.0L338.4,298.9L338.8,298.8L339.2,298.8L339.6,298.7L340.0,298.6L340.4,298.6L340.7,298.5L341.1,298.5L341.5,298.5L341.9,298.5L342.3,298.5L342.7,298.6L343.0,298.6L343.4,298.7L343.8,298.7L344.2,298.8L344.6,298.8L345.0,298.9L345.3,299.0L345.7,299.0L346.1,299.1L346.5,299.3L346.9,299.4L347.3,299.5L347.6,299.7L348.0,299.9L348.4,300.0L348.8,300.2L349.2,300.4L349.6,300.6L350.0,300.8L350.3,301.0L350.7,301.2L351.1,301.4L351.5,301.6L351.9,301.8L352.3,302.0L352.6,302.2L353.0,302.5L353.4,302.7L353.8,303.0L354.2,303.2L354.6,303.4L354.9,303.7L355.3,303.9L355.7,304.2L356.1,304.5L356.5,304.7L356.9,305.0L357.2,305.3L357.6,305.6L358.0,305.9L358.4,306.1L358.8,306.4L359.2,306.7L359.5,307.0L359.9,307.3L360.3,307.5L360.7,307.8L361.1,308.1L361.5,308.4L361.8,308.6L362.2,308.9L362.6,309.2L363.0,309.4L363.4,309.7L363.8,310.0L364.1,310.3L364.5,310.5L364.9,310.8L365.3,311.1L365.7,311.3L366.1,311.6L366.4,311.9L366.8,312.1L367.2,312.4L367.6,312.7L368.0,313.0L368.4,313.2L368.8,313.5L369.1,313.8L369.5,314.0L369.9,314.3L370.3,314.6L370.7,314.9L371.1,315.1L371.4,315.4L371.8,315.7L372.2,316.0L372.6,316.3L373.0,316.5L373.4,316.8L373.7,317.1L374.1,317.4L374.5,317.7L374.9,317.9L375.3,318.2L375.7,318.5L376.0,318.8L376.4,319.1L376.8,319.3L377.2,319.6L377.6,319.9L378.0,320.2L378.3,320.5L378.7,320.8L379.1,321.0L379.5,321.3L379.9,321.6L380.3,321.8L380.6,322.1L381.0,322.3L381.4,322.5L381.8,322.7L382.2,323.0L382.6,323.2L382.9,323.4L383.3,323.6L383.7,323.8L384.1,324.0L384.5,324.2L384.9,324.4L385.3,324.7L385.6,324.9L386.0,325.1L386.4,325.3L386.8,325.5L387.2,325.7L387.6,326.0L387.9,326.2L388.3,326.4L388.7,326.6L389.1,326.8L389.5,327.1L389.9,327.3L390.2,327.5L390.6,327.7L391.0,327.9L391.4,328.2L391.8,328.4L392.2,328.6L392.5,328.8L392.9,329.1L393.3,329.3L393.7,329.5L394.1,329.7L394.5,329.9L394.8,330.2L395.2,330.4L395.6,330.6L396.0,330.7L396.4,330.9L396.8,331.1L397.1,331.3L397.5,331.5L397.9,331.6L398.3,331.8L398.7,332.0L399.1,332.1L399.4,332.3L399.8,332.5L400.2,332.6L400.6,332.8" stroke="#ff9632" stroke-width="2.6" fill="none" stroke-linecap="round" stroke-linejoin="round"/>
<g fill="#ff9632"><circle cx="247.2" cy="378.5" r="2.7"/><circle cx="252.3" cy="378.3" r="2.7"/><circle cx="257.4" cy="378.0" r="2.7"/><circle cx="262.5" cy="377.6" r="2.7"/><circle cx="267.6" cy="377.2" r="2.7"/><circle cx="272.7" cy="376.6" r="2.7"/><circle cx="277.8" cy="375.7" r="2.7"/><circle cx="283.0" cy="374.4" r="2.7"/><circle cx="288.1" cy="372.9" r="2.7"/><circle cx="293.2" cy="370.6" r="2.7"/><circle cx="298.3" cy="366.1" r="2.7"/><circle cx="299.5" cy="365.3" r="2.7"/><circle cx="300.8" cy="364.5" r="2.7"/><circle cx="302.0" cy="363.5" r="2.7"/><circle cx="303.2" cy="362.2" r="2.7"/><circle cx="304.4" cy="360.8" r="2.7"/><circle cx="305.7" cy="359.5" r="2.7"/><circle cx="306.9" cy="358.4" r="2.7"/><circle cx="308.1" cy="357.6" r="2.7"/><circle cx="309.3" cy="356.7" r="2.7"/><circle cx="310.6" cy="355.7" r="2.7"/><circle cx="311.8" cy="354.7" r="2.7"/><circle cx="313.0" cy="353.4" r="2.7"/><circle cx="314.3" cy="351.6" r="2.7"/><circle cx="315.5" cy="348.9" r="2.7"/><circle cx="316.5" cy="345.6" r="2.7"/><circle cx="317.5" cy="341.7" r="2.7"/><circle cx="318.5" cy="336.9" r="2.7"/><circle cx="319.6" cy="332.1" r="2.7"/><circle cx="320.6" cy="328.6" r="2.7"/><circle cx="321.6" cy="326.4" r="2.7"/><circle cx="322.6" cy="324.4" r="2.7"/><circle cx="323.7" cy="321.4" r="2.7"/><circle cx="324.7" cy="318.4" r="2.7"/><circle cx="325.7" cy="315.7" r="2.7"/><circle cx="326.7" cy="313.4" r="2.7"/><circle cx="327.8" cy="311.3" r="2.7"/><circle cx="328.8" cy="309.1" r="2.7"/><circle cx="329.8" cy="306.9" r="2.7"/><circle cx="330.8" cy="305.2" r="2.7"/><circle cx="331.8" cy="303.8" r="2.7"/><circle cx="332.9" cy="302.6" r="2.7"/><circle cx="333.9" cy="301.6" r="2.7"/><circle cx="334.9" cy="300.7" r="2.7"/><circle cx="335.9" cy="300.0" r="2.7"/><circle cx="337.0" cy="299.4" r="2.7"/><circle cx="338.0" cy="299.0" r="2.7"/><circle cx="339.0" cy="298.8" r="2.7"/><circle cx="340.0" cy="298.6" r="2.7"/><circle cx="341.1" cy="298.5" r="2.7"/><circle cx="342.1" cy="298.5" r="2.7"/><circle cx="343.1" cy="298.6" r="2.7"/><circle cx="344.1" cy="298.8" r="2.7"/><circle cx="345.1" cy="298.9" r="2.7"/><circle cx="346.2" cy="299.2" r="2.7"/><circle cx="349.5" cy="300.5" r="2.7"/><circle cx="354.6" cy="303.5" r="2.7"/><circle cx="359.7" cy="307.1" r="2.7"/><circle cx="364.8" cy="310.7" r="2.7"/><circle cx="369.9" cy="314.3" r="2.7"/><circle cx="375.0" cy="318.0" r="2.7"/><circle cx="380.1" cy="321.7" r="2.7"/><circle cx="385.3" cy="324.7" r="2.7"/><circle cx="390.4" cy="327.6" r="2.7"/><circle cx="395.5" cy="330.5" r="2.7"/><circle cx="400.6" cy="332.8" r="2.7"/></g>
<path d="M247.5,378.5L247.9,378.5L248.3,378.5L248.7,378.4L249.0,378.4L249.4,378.4L249.8,378.4L250.2,378.4L250.6,378.3L251.0,378.3L251.3,378.3L251.7,378.3L252.1,378.3L252.5,378.2L252.9,378.2L253.3,378.2L253.6,378.2L254.0,378.2L254.4,378.1L254.8,378.1L255.2,378.1L255.6,378.1L255.9,378.0L256.3,378.0L256.7,378.0L257.1,378.0L257.5,378.0L257.9,377.9L258.2,377.9L258.6,377.9L259.0,377.9L259.4,377.8L259.8,377.8L260.2,377.8L260.5,377.8L260.9,377.7L261.3,377.7L261.7,377.7L262.1,377.6L262.5,377.6L262.8,377.6L263.2,377.6L263.6,377.5L264.0,377.5L264.4,377.5L264.8,377.4L265.2,377.4L265.5,377.4L265.9,377.3L266.3,377.3L266.7,377.3L267.1,377.2L267.5,377.2L267.8,377.2L268.2,377.1L268.6,377.1L269.0,377.1L269.4,377.0L269.8,377.0L270.1,376.9L270.5,376.9L270.9,376.8L271.3,376.8L271.7,376.7L272.1,376.7L272.4,376.6L272.8,376.6L273.2,376.5L273.6,376.5L274.0,376.4L274.4,376.4L274.7,376.3L275.1,376.2L275.5,376.2L275.9,376.1L276.3,376.0L276.7,375.9L277.0,375.9L277.4,375.8L277.8,375.7L278.2,375.6L278.6,375.5L279.0,375.4L279.3,375.3L279.7,375.2L280.1,375.2L280.5,375.1L280.9,375.0L281.3,374.9L281.7,374.8L282.0,374.7L282.4,374.6L282.8,374.5L283.2,374.3L283.6,374.2L284.0,374.1L284.3,374.0L284.7,373.9L285.1,373.8L285.5,373.7L285.9,373.6L286.3,373.5L286.6,373.4L287.0,373.2L287.4,373.1L287.8,373.0L288.2,372.9L288.6,372.7L288.9,372.6L289.3,372.4L289.7,372.3L290.1,372.1L290.5,372.0L290.9,371.8L291.2,371.6L291.6,371.5L292.0,371.3L292.4,371.1L292.8,370.9L293.2,370.7L293.5,370.4L293.9,370.1L294.3,369.8L294.7,369.5L295.1,369.1L295.5,368.8L295.8,368.4L296.2,368.0L296.6,367.6L297.0,367.3L297.4,366.9L297.8,366.6L298.1,366.2L298.5,366.0L298.9,365.7L299.3,365.4L299.7,365.2L300.1,365.0L300.5,364.7L300.8,364.4L301.2,364.1L301.6,363.8L302.0,363.5L302.4,363.1L302.8,362.7L303.1,362.3L303.5,361.8L303.9,361.4L304.3,361.0L304.7,360.5L305.1,360.1L305.4,359.7L305.8,359.3L306.2,358.9L306.6,358.6L307.0,358.3L307.4,358.0L307.7,357.8L308.1,357.6L308.5,357.3L308.9,357.0L309.3,356.8L309.7,356.5L310.0,356.2L310.4,355.9L310.8,355.5L311.2,355.2L311.6,354.9L312.0,354.6L312.3,354.2L312.7,353.9L313.1,353.5L313.5,353.1L313.9,352.7L314.3,352.2L314.6,351.7L315.0,351.1L315.4,350.5L315.8,349.7L316.2,348.8L316.6,347.7L317.0,346.5L317.3,345.1L317.7,343.4L318.1,341.4L318.5,339.3L318.9,336.9L319.3,334.5L319.6,332.2L320.0,330.1L320.4,328.1L320.8,326.3L321.2,324.6L321.6,323.2L321.9,321.9L322.3,320.7L322.7,319.7L323.1,318.8L323.5,317.9L323.9,317.2L324.2,316.5L324.6,315.8L325.0,315.0L325.4,313.9L325.8,312.4L326.2,310.8L326.5,309.3L326.9,307.8L327.3,306.3L327.7,304.9L328.1,303.5L328.5,302.1L328.8,300.8L329.2,299.5L329.6,298.3L330.0,297.1L330.4,296.0L330.8,294.9L331.1,293.8L331.5,292.9L331.9,292.1L332.3,291.3L332.7,290.5L333.1,289.7L333.5,289.0L333.8,288.3L334.2,287.7L334.6,287.1L335.0,286.5L335.4,286.0L335.8,285.6L336.1,285.2L336.5,284.8L336.9,284.4L337.3,284.0L337.7,283.7L338.1,283.4L338.4,283.2L338.8,282.9L339.2,282.7L339.6,282.5L340.0,282.4L340.4,282.2L340.7,282.1L341.1,282.1L341.5,282.0L341.9,282.0L342.3,282.0L342.7,282.1L343.0,282.1L343.4,282.2L343.8,282.3L344.2,282.4L344.6,282.5L345.0,282.7L345.3,282.9L345.7,283.1L346.1,283.4L346.5,283.6L346.9,283.8L347.3,284.1L347.6,284.3L348.0,284.6L348.4,284.9L348.8,285.2L349.2,285.5L349.6,285.8L350.0,286.1L350.3,286.5L350.7,286.8L351.1,287.2L351.5,287.6L351.9,288.0L352.3,288.4L352.6,288.8L353.0,289.2L353.4,289.7L353.8,290.1L354.2,290.5L354.6,290.9L354.9,291.3L355.3,291.7L355.7,292.1L356.1,292.5L356.5,292.9L356.9,293.2L357.2,293.6L357.6,294.0L358.0,294.4L358.4,294.8L358.8,295.2L359.2,295.6L359.5,295.9L359.9,296.3L360.3,296.6L360.7,297.0L361.1,297.3L361.5,297.7L361.8,298.0L362.2,298.3L362.6,298.7L363.0,299.0L363.4,299.3L363.8,299.7L364.1,300.1L364.5,300.4L364.9,300.8L365.3,301.2L365.7,301.6L366.1,302.0L366.4,302.4L366.8,302.9L367.2,303.3L367.6,303.7L368.0,304.1L368.4,304.6L368.8,305.0L369.1,305.4L369.5,305.8L369.9,306.2L370.3,306.6L370.7,307.0L371.1,307.4L371.4,307.8L371.8,308.2L372.2,308.6L372.6,309.0L373.0,309.4L373.4,309.8L373.7,310.2L374.1,310.5L374.5,310.9L374.9,311.3L375.3,311.6L375.7,312.0L376.0,312.3L376.4,312.7L376.8,313.0L377.2,313.3L377.6,313.7L378.0,314.0L378.3,314.3L378.7,314.7L379.1,315.0L379.5,315.3L379.9,315.7L380.3,316.0L380.6,316.3L381.0,316.6L381.4,317.0L381.8,317.3L382.2,317.6L382.6,317.9L382.9,318.3L383.3,318.6L383.7,318.9L384.1,319.2L384.5,319.5L384.9,319.9L385.3,320.2L385.6,320.5L386.0,320.8L386.4,321.2L386.8,321.5L387.2,321.9L387.6,322.2L387.9,322.5L388.3,322.9L388.7,323.2L389.1,323.5L389.5,323.9L389.9,324.2L390.2,324.5L390.6,324.8L391.0,325.1L391.4,325.4L391.8,325.7L392.2,326.0L392.5,326.3L392.9,326.5L393.3,326.8L393.7,327.1L394.1,327.4L394.5,327.6L394.8,327.9L395.2,328.2L395.6,328.4L396.0,328.7L396.4,329.0L396.8,329.3L397.1,329.5L397.5,329.8L397.9,330.1L398.3,330.3L398.7,330.6L399.1,330.9L399.4,331.1L399.8,331.4L400.2,331.7L400.6,331.9" stroke="#ffc814" stroke-width="2.6" fill="none" stroke-linecap="round" stroke-linejoin="round"/>
<g fill="#ffc814"><circle cx="247.2" cy="378.5" r="2.7"/><circle cx="252.3" cy="378.3" r="2.7"/><circle cx="257.4" cy="378.0" r="2.7"/><circle cx="262.5" cy="377.6" r="2.7"/><circle cx="267.6" cy="377.2" r="2.7"/><circle cx="272.7" cy="376.6" r="2.7"/><circle cx="277.8" cy="375.7" r="2.7"/><circle cx="283.0" cy="374.4" r="2.7"/><circle cx="288.1" cy="372.9" r="2.7"/><circle cx="293.2" cy="370.6" r="2.7"/><circle cx="298.3" cy="366.1" r="2.7"/><circle cx="299.5" cy="365.3" r="2.7"/><circle cx="300.8" cy="364.5" r="2.7"/><circle cx="302.0" cy="363.5" r="2.7"/><circle cx="303.2" cy="362.2" r="2.7"/><circle cx="304.4" cy="360.8" r="2.7"/><circle cx="305.7" cy="359.5" r="2.7"/><circle cx="306.9" cy="358.4" r="2.7"/><circle cx="308.1" cy="357.6" r="2.7"/><circle cx="309.3" cy="356.7" r="2.7"/><circle cx="310.6" cy="355.7" r="2.7"/><circle cx="311.8" cy="354.7" r="2.7"/><circle cx="313.0" cy="353.6" r="2.7"/><circle cx="314.3" cy="352.2" r="2.7"/><circle cx="315.5" cy="350.4" r="2.7"/><circle cx="319.5" cy="332.9" r="2.7"/><circle cx="320.7" cy="326.6" r="2.7"/><circle cx="322.0" cy="321.8" r="2.7"/><circle cx="323.2" cy="318.5" r="2.7"/><circle cx="324.4" cy="316.2" r="2.7"/><circle cx="325.6" cy="312.9" r="2.7"/><circle cx="326.9" cy="308.0" r="2.7"/><circle cx="328.1" cy="303.5" r="2.7"/><circle cx="329.3" cy="299.3" r="2.7"/><circle cx="330.5" cy="295.5" r="2.7"/><circle cx="331.8" cy="292.4" r="2.7"/><circle cx="333.0" cy="289.8" r="2.7"/><circle cx="334.2" cy="287.6" r="2.7"/><circle cx="335.5" cy="285.9" r="2.7"/><circle cx="336.7" cy="284.6" r="2.7"/><circle cx="337.9" cy="283.5" r="2.7"/><circle cx="339.1" cy="282.8" r="2.7"/><circle cx="340.4" cy="282.2" r="2.7"/><circle cx="341.6" cy="282.0" r="2.7"/><circle cx="342.8" cy="282.1" r="2.7"/><circle cx="344.1" cy="282.3" r="2.7"/><circle cx="345.3" cy="282.8" r="2.7"/><circle cx="349.5" cy="285.7" r="2.7"/><circle cx="354.6" cy="290.9" r="2.7"/><circle cx="359.7" cy="296.1" r="2.7"/><circle cx="364.8" cy="300.7" r="2.7"/><circle cx="369.9" cy="306.2" r="2.7"/><circle cx="375.0" cy="311.4" r="2.7"/><circle cx="380.1" cy="315.9" r="2.7"/><circle cx="385.3" cy="320.2" r="2.7"/><circle cx="390.4" cy="324.6" r="2.7"/><circle cx="395.5" cy="328.3" r="2.7"/><circle cx="400.6" cy="331.9" r="2.7"/></g>
<path d="M247.5,378.5L247.9,378.5L248.3,378.5L248.7,378.4L249.0,378.4L249.4,378.4L249.8,378.4L250.2,378.4L250.6,378.3L251.0,378.3L251.3,378.3L251.7,378.3L252.1,378.3L252.5,378.2L252.9,378.2L253.3,378.2L253.6,378.2L254.0,378.2L254.4,378.1L254.8,378.1L255.2,378.1L255.6,378.1L255.9,378.0L256.3,378.0L256.7,378.0L257.1,378.0L257.5,378.0L257.9,377.9L258.2,377.9L258.6,377.9L259.0,377.9L259.4,377.8L259.8,377.8L260.2,377.8L260.5,377.8L260.9,377.7L261.3,377.7L261.7,377.7L262.1,377.6L262.5,377.6L262.8,377.6L263.2,377.6L263.6,377.5L264.0,377.5L264.4,377.5L264.8,377.4L265.2,377.4L265.5,377.4L265.9,377.3L266.3,377.3L266.7,377.3L267.1,377.2L267.5,377.2L267.8,377.2L268.2,377.1L268.6,377.1L269.0,377.1L269.4,377.0L269.8,377.0L270.1,376.9L270.5,376.9L270.9,376.8L271.3,376.8L271.7,376.7L272.1,376.7L272.4,376.6L272.8,376.6L273.2,376.5L273.6,376.5L274.0,376.4L274.4,376.4L274.7,376.3L275.1,376.2L275.5,376.2L275.9,376.1L276.3,376.0L276.7,375.9L277.0,375.9L277.4,375.8L277.8,375.7L278.2,375.6L278.6,375.5L279.0,375.4L279.3,375.3L279.7,375.2L280.1,375.2L280.5,375.1L280.9,375.0L281.3,374.9L281.7,374.8L282.0,374.7L282.4,374.6L282.8,374.5L283.2,374.3L283.6,374.2L284.0,374.1L284.3,374.0L284.7,373.9L285.1,373.8L285.5,373.7L285.9,373.6L286.3,373.5L286.6,373.4L287.0,373.2L287.4,373.1L287.8,373.0L288.2,372.9L288.6,372.7L288.9,372.6L289.3,372.4L289.7,372.3L290.1,372.1L290.5,372.0L290.9,371.8L291.2,371.6L291.6,371.5L292.0,371.3L292.4,371.1L292.8,370.9L293.2,370.7L293.5,370.4L293.9,370.1L294.3,369.8L294.7,369.5L295.1,369.1L295.5,368.8L295.8,368.4L296.2,368.0L296.6,367.6L297.0,367.3L297.4,366.9L297.8,366.6L298.1,366.2L298.5,366.0L298.9,365.7L299.3,365.4L299.7,365.2L300.1,365.0L300.5,364.7L300.8,364.4L301.2,364.1L301.6,363.8L302.0,363.5L302.4,363.1L302.8,362.7L303.1,362.3L303.5,361.8L303.9,361.4L304.3,361.0L304.7,360.5L305.1,360.1L305.4,359.7L305.8,359.3L306.2,358.9L306.6,358.6L307.0,358.3L307.4,358.0L307.7,357.8L308.1,357.6L308.5,357.3L308.9,357.0L309.3,356.8L309.7,356.5L310.0,356.2L310.4,355.9L310.8,355.5L311.2,355.2L311.6,354.9L312.0,354.6L312.3,354.2L312.7,353.9L313.1,353.5L313.5,353.1L313.9,352.7L314.3,352.2L314.6,351.7L315.0,351.1L315.4,350.5L315.8,349.9L316.2,349.1L316.6,348.3L317.0,347.4L317.3,346.4L317.7,345.2L318.1,343.8L318.5,342.0L318.9,340.1L319.3,338.1L319.6,335.8L320.0,333.6L320.4,331.3L320.8,329.0L321.2,326.8L321.6,324.7L321.9,322.6L322.3,320.6L322.7,318.6L323.1,316.6L323.5,314.7L323.9,312.9L324.2,311.3L324.6,309.9L325.0,308.9L325.4,308.0L325.8,307.3L326.2,306.6L326.5,305.9L326.9,305.1L327.3,303.9L327.7,302.3L328.1,300.7L328.5,299.0L328.8,297.4L329.2,295.9L329.6,294.3L330.0,292.8L330.4,291.3L330.8,289.8L331.1,288.3L331.5,286.9L331.9,285.5L332.3,284.1L332.7,282.8L333.1,281.4L333.5,280.1L333.8,278.7L334.2,277.4L334.6,276.2L335.0,275.1L335.4,274.1L335.8,273.3L336.1,272.6L336.5,271.9L336.9,271.3L337.3,270.8L337.7,270.3L338.1,269.9L338.4,269.5L338.8,269.1L339.2,268.7L339.6,268.4L340.0,268.2L340.4,268.0L340.7,267.8L341.1,267.7L341.5,267.6L341.9,267.6L342.3,267.6L342.7,267.6L343.0,267.7L343.4,267.8L343.8,267.9L344.2,268.0L344.6,268.1L345.0,268.4L345.3,268.6L345.7,269.0L346.1,269.3L346.5,269.6L346.9,269.9L347.3,270.3L347.6,270.6L348.0,271.0L348.4,271.4L348.8,271.8L349.2,272.2L349.6,272.7L350.0,273.1L350.3,273.6L350.7,274.1L351.1,274.6L351.5,275.2L351.9,275.7L352.3,276.2L352.6,276.7L353.0,277.3L353.4,277.8L353.8,278.3L354.2,278.8L354.6,279.3L354.9,279.8L355.3,280.3L355.7,280.8L356.1,281.3L356.5,281.8L356.9,282.3L357.2,282.8L357.6,283.3L358.0,283.8L358.4,284.3L358.8,284.8L359.2,285.3L359.5,285.8L359.9,286.3L360.3,286.8L360.7,287.3L361.1,287.8L361.5,288.3L361.8,288.8L362.2,289.3L362.6,289.8L363.0,290.3L363.4,290.8L363.8,291.4L364.1,291.9L364.5,292.4L364.9,293.0L365.3,293.5L365.7,294.1L366.1,294.7L366.4,295.2L366.8,295.8L367.2,296.4L367.6,296.9L368.0,297.5L368.4,298.1L368.8,298.6L369.1,299.2L369.5,299.7L369.9,300.3L370.3,300.9L370.7,301.4L371.1,302.0L371.4,302.6L371.8,303.1L372.2,303.7L372.6,304.2L373.0,304.8L373.4,305.3L373.7,305.8L374.1,306.4L374.5,306.9L374.9,307.4L375.3,307.9L375.7,308.4L376.0,308.9L376.4,309.3L376.8,309.8L377.2,310.3L377.6,310.8L378.0,311.2L378.3,311.7L378.7,312.1L379.1,312.5L379.5,313.0L379.9,313.4L380.3,313.8L380.6,314.2L381.0,314.6L381.4,315.1L381.8,315.5L382.2,315.9L382.6,316.3L382.9,316.6L383.3,317.0L383.7,317.4L384.1,317.8L384.5,318.1L384.9,318.5L385.3,318.8L385.6,319.1L386.0,319.4L386.4,319.7L386.8,320.0L387.2,320.3L387.6,320.6L387.9,320.8L388.3,321.1L388.7,321.4L389.1,321.6L389.5,321.9L389.9,322.2L390.2,322.4L390.6,322.7L391.0,323.0L391.4,323.3L391.8,323.6L392.2,323.9L392.5,324.1L392.9,324.4L393.3,324.7L393.7,325.0L394.1,325.3L394.5,325.5L394.8,325.8L395.2,326.1L395.6,326.3L396.0,326.6L396.4,326.8L396.8,327.1L397.1,327.3L397.5,327.6L397.9,327.8L398.3,328.0L398.7,328.3L399.1,328.5L399.4,328.7L399.8,328.9L400.2,329.1L400.6,329.3" stroke="#78c83c" stroke-width="2.6" fill="none" stroke-linecap="round" stroke-linejoin="round"/>
<g fill="#78c83c"><circle cx="247.2" cy="378.5" r="2.7"/><circle cx="252.3" cy="378.3" r="2.7"/><circle cx="257.4" cy="378.0" r="2.7"/><circle cx="262.5" cy="377.6" r="2.7"/><circle cx="267.6" cy="377.2" r="2.7"/><circle cx="272.7" cy="376.6" r="2.7"/><circle cx="277.8" cy="375.7" r="2.7"/><circle cx="283.0" cy="374.4" r="2.7"/><circle cx="288.1" cy="372.9" r="2.7"/><circle cx="293.2" cy="370.6" r="2.7"/><circle cx="298.3" cy="366.1" r="2.7"/><circle cx="299.5" cy="365.3" r="2.7"/><circle cx="300.8" cy="364.5" r="2.7"/><circle cx="302.0" cy="363.5" r="2.7"/><circle cx="303.2" cy="362.2" r="2.7"/><circle cx="304.4" cy="360.8" r="2.7"/><circle cx="305.7" cy="359.5" r="2.7"/><circle cx="306.9" cy="358.4" r="2.7"/><circle cx="308.1" cy="357.6" r="2.7"/><circle cx="309.3" cy="356.7" r="2.7"/><circle cx="310.6" cy="355.7" r="2.7"/><circle cx="311.8" cy="354.7" r="2.7"/><circle cx="313.0" cy="353.6" r="2.7"/><circle cx="314.3" cy="352.2" r="2.7"/><circle cx="315.5" cy="350.4" r="2.7"/><circle cx="322.0" cy="322.3" r="2.7"/><circle cx="323.4" cy="314.9" r="2.7"/><circle cx="324.9" cy="309.3" r="2.7"/><circle cx="326.3" cy="306.4" r="2.7"/><circle cx="327.7" cy="302.2" r="2.7"/><circle cx="329.2" cy="296.2" r="2.7"/><circle cx="330.6" cy="290.5" r="2.7"/><circle cx="332.0" cy="285.1" r="2.7"/><circle cx="333.5" cy="280.1" r="2.7"/><circle cx="334.9" cy="275.4" r="2.7"/><circle cx="336.3" cy="272.3" r="2.7"/><circle cx="337.8" cy="270.2" r="2.7"/><circle cx="339.2" cy="268.8" r="2.7"/><circle cx="340.6" cy="267.9" r="2.7"/><circle cx="342.1" cy="267.6" r="2.7"/><circle cx="343.5" cy="267.8" r="2.7"/><circle cx="344.9" cy="268.3" r="2.7"/><circle cx="346.3" cy="269.5" r="2.7"/><circle cx="347.8" cy="270.7" r="2.7"/><circle cx="349.5" cy="272.5" r="2.7"/><circle cx="354.6" cy="279.3" r="2.7"/><circle cx="359.7" cy="286.0" r="2.7"/><circle cx="364.8" cy="292.8" r="2.7"/><circle cx="369.9" cy="300.3" r="2.7"/><circle cx="375.0" cy="307.6" r="2.7"/><circle cx="380.1" cy="313.7" r="2.7"/><circle cx="385.3" cy="318.8" r="2.7"/><circle cx="390.4" cy="322.5" r="2.7"/><circle cx="395.5" cy="326.3" r="2.7"/><circle cx="400.6" cy="329.3" r="2.7"/></g>
<path d="M247.5,378.5L247.9,378.5L248.3,378.5L248.7,378.4L249.0,378.4L249.4,378.4L249.8,378.4L250.2,378.4L250.6,378.3L251.0,378.3L251.3,378.3L251.7,378.3L252.1,378.3L252.5,378.2L252.9,378.2L253.3,378.2L253.6,378.2L254.0,378.2L254.4,378.1L254.8,378.1L255.2,378.1L255.6,378.1L255.9,378.0L256.3,378.0L256.7,378.0L257.1,378.0L257.5,378.0L257.9,377.9L258.2,377.9L258.6,377.9L259.0,377.9L259.4,377.8L259.8,377.8L260.2,377.8L260.5,377.8L260.9,377.7L261.3,377.7L261.7,377.7L262.1,377.6L262.5,377.6L262.8,377.6L263.2,377.6L263.6,377.5L264.0,377.5L264.4,377.5L264.8,377.4L265.2,377.4L265.5,377.4L265.9,377.3L266.3,377.3L266.7,377.3L267.1,377.2L267.5,377.2L267.8,377.2L268.2,377.1L268.6,377.1L269.0,377.1L269.4,377.0L269.8,377.0L270.1,376.9L270.5,376.9L270.9,376.8L271.3,376.8L271.7,376.7L272.1,376.7L272.4,376.6L272.8,376.6L273.2,376.5L273.6,376.5L274.0,376.4L274.4,376.4L274.7,376.3L275.1,376.2L275.5,376.2L275.9,376.1L276.3,376.0L276.7,375.9L277.0,375.9L277.4,375.8L277.8,375.7L278.2,375.6L278.6,375.5L279.0,375.4L279.3,375.3L279.7,375.2L280.1,375.2L280.5,375.1L280.9,375.0L281.3,374.9L281.7,374.8L282.0,374.7L282.4,374.6L282.8,374.5L283.2,374.3L283.6,374.2L284.0,374.1L284.3,374.0L284.7,373.9L285.1,373.8L285.5,373.7L285.9,373.6L286.3,373.5L286.6,373.4L287.0,373.2L287.4,373.1L287.8,373.0L288.2,372.9L288.6,372.7L288.9,372.6L289.3,372.4L289.7,372.3L290.1,372.1L290.5,372.0L290.9,371.8L291.2,371.6L291.6,371.5L292.0,371.3L292.4,371.1L292.8,370.9L293.2,370.7L293.5,370.4L293.9,370.1L294.3,369.8L294.7,369.5L295.1,369.1L295.5,368.8L295.8,368.4L296.2,368.0L296.6,367.6L297.0,367.3L297.4,366.9L297.8,366.6L298.1,366.2L298.5,366.0L298.9,365.7L299.3,365.4L299.7,365.2L300.1,365.0L300.5,364.7L300.8,364.4L301.2,364.1L301.6,363.8L302.0,363.5L302.4,363.1L302.8,362.7L303.1,362.3L303.5,361.8L303.9,361.4L304.3,361.0L304.7,360.5L305.1,360.1L305.4,359.7L305.8,359.3L306.2,358.9L306.6,358.6L307.0,358.3L307.4,358.0L307.7,357.8L308.1,357.6L308.5,357.3L308.9,357.0L309.3,356.8L309.7,356.5L310.0,356.2L310.4,355.9L310.8,355.5L311.2,355.2L311.6,354.9L312.0,354.6L312.3,354.2L312.7,353.9L313.1,353.5L313.5,353.1L313.9,352.7L314.3,352.2L314.6,351.7L315.0,351.1L315.4,350.5L315.8,349.9L316.2,349.1L316.6,348.3L317.0,347.4L317.3,346.4L317.7,345.2L318.1,343.9L318.5,342.3L318.9,340.6L319.3,338.8L319.6,336.9L320.0,334.9L320.4,332.9L320.8,330.8L321.2,328.8L321.6,326.9L321.9,325.0L322.3,323.2L322.7,321.2L323.1,319.2L323.5,317.1L323.9,314.7L324.2,312.1L324.6,309.3L325.0,306.7L325.4,304.3L325.8,302.0L326.2,299.8L326.5,298.0L326.9,296.5L327.3,295.2L327.7,294.2L328.1,293.2L328.5,292.2L328.8,290.8L329.2,289.1L329.6,287.0L330.0,285.0L330.4,283.1L330.8,281.3L331.1,279.6L331.5,277.9L331.9,276.3L332.3,274.7L332.7,273.1L333.1,271.5L333.5,269.8L333.8,268.1L334.2,266.5L334.6,265.0L335.0,263.6L335.4,262.4L335.8,261.4L336.1,260.5L336.5,259.7L336.9,258.9L337.3,258.3L337.7,257.6L338.1,257.1L338.4,256.6L338.8,256.2L339.2,255.8L339.6,255.4L340.0,255.1L340.4,254.8L340.7,254.6L341.1,254.5L341.5,254.3L341.9,254.2L342.3,254.2L342.7,254.2L343.0,254.3L343.4,254.4L343.8,254.5L344.2,254.7L344.6,254.9L345.0,255.2L345.3,255.5L345.7,255.9L346.1,256.2L346.5,256.6L346.9,257.0L347.3,257.4L347.6,257.8L348.0,258.2L348.4,258.7L348.8,259.2L349.2,259.7L349.6,260.3L350.0,260.8L350.3,261.5L350.7,262.2L351.1,263.0L351.5,263.8L351.9,264.6L352.3,265.4L352.6,266.2L353.0,267.0L353.4,267.8L353.8,268.6L354.2,269.3L354.6,270.1L354.9,270.8L355.3,271.6L355.7,272.3L356.1,273.1L356.5,273.8L356.9,274.5L357.2,275.2L357.6,275.9L358.0,276.5L358.4,277.2L358.8,277.8L359.2,278.3L359.5,278.9L359.9,279.4L360.3,280.0L360.7,280.5L361.1,281.0L361.5,281.4L361.8,281.9L362.2,282.4L362.6,282.9L363.0,283.4L363.4,283.8L363.8,284.3L364.1,284.8L364.5,285.3L364.9,285.9L365.3,286.4L365.7,287.0L366.1,287.5L366.4,288.1L366.8,288.7L367.2,289.3L367.6,289.9L368.0,290.4L368.4,291.0L368.8,291.6L369.1,292.2L369.5,292.8L369.9,293.4L370.3,294.0L370.7,294.6L371.1,295.1L371.4,295.7L371.8,296.3L372.2,296.9L372.6,297.5L373.0,298.1L373.4,298.7L373.7,299.3L374.1,299.9L374.5,300.4L374.9,301.0L375.3,301.6L375.7,302.2L376.0,302.8L376.4,303.4L376.8,304.0L377.2,304.5L377.6,305.1L378.0,305.7L378.3,306.3L378.7,306.9L379.1,307.5L379.5,308.0L379.9,308.6L380.3,309.1L380.6,309.6L381.0,310.2L381.4,310.7L381.8,311.2L382.2,311.8L382.6,312.3L382.9,312.8L383.3,313.3L383.7,313.8L384.1,314.2L384.5,314.7L384.9,315.2L385.3,315.6L385.6,316.1L386.0,316.5L386.4,316.9L386.8,317.3L387.2,317.7L387.6,318.1L387.9,318.4L388.3,318.8L388.7,319.2L389.1,319.5L389.5,319.9L389.9,320.2L390.2,320.6L390.6,320.9L391.0,321.3L391.4,321.6L391.8,321.9L392.2,322.3L392.5,322.6L392.9,322.9L393.3,323.2L393.7,323.6L394.1,323.9L394.5,324.2L394.8,324.5L395.2,324.8L395.6,325.0L396.0,325.3L396.4,325.6L396.8,325.8L397.1,326.1L397.5,326.4L397.9,326.6L398.3,326.9L398.7,327.1L399.1,327.3L399.4,327.6L399.8,327.8L400.2,328.0L400.6,328.2" stroke="#3caad2" stroke-width="2.6" fill="none" stroke-linecap="round" stroke-linejoin="round"/>
<g fill="#3caad2"><circle cx="247.2" cy="378.5" r="2.7"/><circle cx="252.3" cy="378.3" r="2.7"/><circle cx="257.4" cy="378.0" r="2.7"/><circle cx="262.5" cy="377.6" r="2.7"/><circle cx="267.6" cy="377.2" r="2.7"/><circle cx="272.7" cy="376.6" r="2.7"/><circle cx="277.8" cy="375.7" r="2.7"/><circle cx="283.0" cy="374.4" r="2.7"/><circle cx="288.1" cy="372.9" r="2.7"/><circle cx="293.2" cy="370.6" r="2.7"/><circle cx="298.3" cy="366.1" r="2.7"/><circle cx="299.5" cy="365.3" r="2.7"/><circle cx="300.8" cy="364.5" r="2.7"/><circle cx="302.0" cy="363.5" r="2.7"/><circle cx="303.2" cy="362.2" r="2.7"/><circle cx="304.4" cy="360.8" r="2.7"/><circle cx="305.7" cy="359.5" r="2.7"/><circle cx="306.9" cy="358.4" r="2.7"/><circle cx="308.1" cy="357.6" r="2.7"/><circle cx="309.3" cy="356.7" r="2.7"/><circle cx="310.6" cy="355.7" r="2.7"/><circle cx="311.8" cy="354.7" r="2.7"/><circle cx="313.0" cy="353.6" r="2.7"/><circle cx="314.3" cy="352.2" r="2.7"/><circle cx="315.5" cy="350.4" r="2.7"/><circle cx="325.5" cy="303.6" r="2.7"/><circle cx="326.9" cy="296.5" r="2.7"/><circle cx="328.4" cy="292.5" r="2.7"/><circle cx="329.8" cy="286.1" r="2.7"/><circle cx="331.2" cy="279.2" r="2.7"/><circle cx="332.7" cy="273.2" r="2.7"/><circle cx="334.1" cy="267.0" r="2.7"/><circle cx="335.5" cy="261.9" r="2.7"/><circle cx="337.0" cy="258.8" r="2.7"/><circle cx="338.4" cy="256.7" r="2.7"/><circle cx="339.8" cy="255.2" r="2.7"/><circle cx="341.3" cy="254.4" r="2.7"/><circle cx="342.7" cy="254.2" r="2.7"/><circle cx="344.1" cy="254.6" r="2.7"/><circle cx="345.6" cy="255.7" r="2.7"/><circle cx="347.0" cy="257.1" r="2.7"/><circle cx="348.4" cy="258.7" r="2.7"/><circle cx="349.5" cy="260.1" r="2.7"/><circle cx="354.6" cy="270.1" r="2.7"/><circle cx="359.7" cy="279.1" r="2.7"/><circle cx="364.8" cy="285.7" r="2.7"/><circle cx="369.9" cy="293.4" r="2.7"/><circle cx="375.0" cy="301.2" r="2.7"/><circle cx="380.1" cy="308.9" r="2.7"/><circle cx="385.3" cy="315.6" r="2.7"/><circle cx="390.4" cy="320.7" r="2.7"/><circle cx="395.5" cy="324.9" r="2.7"/><circle cx="400.6" cy="328.2" r="2.7"/></g>
<path d="M247.5,378.5L247.9,378.5L248.3,378.5L248.7,378.4L249.0,378.4L249.4,378.4L249.8,378.4L250.2,378.4L250.6,378.3L251.0,378.3L251.3,378.3L251.7,378.3L252.1,378.3L252.5,378.2L252.9,378.2L253.3,378.2L253.6,378.2L254.0,378.2L254.4,378.1L254.8,378.1L255.2,378.1L255.6,378.1L255.9,378.0L256.3,378.0L256.7,378.0L257.1,378.0L257.5,378.0L257.9,377.9L258.2,377.9L258.6,377.9L259.0,377.9L259.4,377.8L259.8,377.8L260.2,377.8L260.5,377.8L260.9,377.7L261.3,377.7L261.7,377.7L262.1,377.6L262.5,377.6L262.8,377.6L263.2,377.6L263.6,377.5L264.0,377.5L264.4,377.5L264.8,377.4L265.2,377.4L265.5,377.4L265.9,377.3L266.3,377.3L266.7,377.3L267.1,377.2L267.5,377.2L267.8,377.2L268.2,377.1L268.6,377.1L269.0,377.1L269.4,377.0L269.8,377.0L270.1,376.9L270.5,376.9L270.9,376.8L271.3,376.8L271.7,376.7L272.1,376.7L272.4,376.6L272.8,376.6L273.2,376.5L273.6,376.5L274.0,376.4L274.4,376.4L274.7,376.3L275.1,376.2L275.5,376.2L275.9,376.1L276.3,376.0L276.7,375.9L277.0,375.9L277.4,375.8L277.8,375.7L278.2,375.6L278.6,375.5L279.0,375.4L279.3,375.3L279.7,375.2L280.1,375.2L280.5,375.1L280.9,375.0L281.3,374.9L281.7,374.8L282.0,374.7L282.4,374.6L282.8,374.5L283.2,374.3L283.6,374.2L284.0,374.1L284.3,374.0L284.7,373.9L285.1,373.8L285.5,373.7L285.9,373.6L286.3,373.5L286.6,373.4L287.0,373.2L287.4,373.1L287.8,373.0L288.2,372.9L288.6,372.7L288.9,372.6L289.3,372.4L289.7,372.3L290.1,372.1L290.5,372.0L290.9,371.8L291.2,371.7L291.6,371.5L292.0,371.3L292.4,371.1L292.8,370.9L293.2,370.7L293.5,370.5L293.9,370.2L294.3,370.0L294.7,369.6L295.1,369.3L295.5,369.0L295.8,368.6L296.2,368.2L296.6,367.9L297.0,367.5L297.4,367.1L297.8,366.8L298.1,366.5L298.5,366.2L298.9,365.9L299.3,365.6L299.7,365.4L300.1,365.1L300.5,364.9L300.8,364.6L301.2,364.4L301.6,364.1L302.0,363.8L302.4,363.4L302.8,363.0L303.1,362.6L303.5,362.2L303.9,361.7L304.3,361.3L304.7,360.9L305.1,360.4L305.4,360.0L305.8,359.6L306.2,359.2L306.6,358.9L307.0,358.5L307.4,358.3L307.7,358.0L308.1,357.7L308.5,357.5L308.9,357.3L309.3,357.0L309.7,356.7L310.0,356.4L310.4,356.1L310.8,355.8L311.2,355.5L311.6,355.1L312.0,354.8L312.3,354.5L312.7,354.1L313.1,353.8L313.5,353.4L313.9,353.0L314.3,352.6L314.6,352.1L315.0,351.6L315.4,351.0L315.8,350.4L316.2,349.7L316.6,348.9L317.0,348.1L317.3,347.2L317.7,346.1L318.1,345.0L318.5,343.5L318.9,341.9L319.3,340.3L319.6,338.4L320.0,336.4L320.4,334.5L320.8,332.4L321.2,330.4L321.6,328.4L321.9,326.5L322.3,324.6L322.7,322.8L323.1,320.8L323.5,318.8L323.9,316.6L324.2,314.1L324.6,311.5L325.0,308.7L325.4,305.9L325.8,303.0L326.2,299.9L326.5,296.8L326.9,293.8L327.3,290.7L327.7,287.6L328.1,284.7L328.5,282.2L328.8,279.8L329.2,277.6L329.6,275.4L330.0,273.4L330.4,271.4L330.8,269.5L331.1,267.6L331.5,265.7L331.9,263.9L332.3,262.1L332.7,260.5L333.1,258.9L333.5,257.5L333.8,256.1L334.2,254.8L334.6,253.6L335.0,252.4L335.4,251.3L335.8,250.3L336.1,249.4L336.5,248.7L336.9,247.9L337.3,247.2L337.7,246.6L338.1,246.0L338.4,245.5L338.8,245.0L339.2,244.6L339.6,244.1L340.0,243.7L340.4,243.4L340.7,243.1L341.1,242.9L341.5,242.7L341.9,242.6L342.3,242.5L342.7,242.5L343.0,242.5L343.4,242.7L343.8,242.9L344.2,243.1L344.6,243.4L345.0,243.7L345.3,244.1L345.7,244.6L346.1,245.1L346.5,245.6L346.9,246.1L347.3,246.6L347.6,247.1L348.0,247.7L348.4,248.2L348.8,248.8L349.2,249.4L349.6,250.0L350.0,250.7L350.3,251.4L350.7,252.1L351.1,252.8L351.5,253.6L351.9,254.3L352.3,255.1L352.6,255.9L353.0,256.7L353.4,257.5L353.8,258.3L354.2,259.2L354.6,260.0L354.9,260.8L355.3,261.7L355.7,262.6L356.1,263.4L356.5,264.4L356.9,265.3L357.2,266.2L357.6,267.1L358.0,268.0L358.4,269.0L358.8,269.9L359.2,270.8L359.5,271.6L359.9,272.5L360.3,273.3L360.7,274.1L361.1,274.9L361.5,275.7L361.8,276.5L362.2,277.2L362.6,278.0L363.0,278.8L363.4,279.5L363.8,280.3L364.1,281.0L364.5,281.8L364.9,282.5L365.3,283.3L365.7,284.1L366.1,284.8L366.4,285.6L366.8,286.3L367.2,287.1L367.6,287.9L368.0,288.6L368.4,289.4L368.8,290.1L369.1,290.8L369.5,291.5L369.9,292.2L370.3,292.9L370.7,293.5L371.1,294.2L371.4,294.8L371.8,295.4L372.2,296.0L372.6,296.6L373.0,297.2L373.4,297.8L373.7,298.4L374.1,298.9L374.5,299.5L374.9,300.1L375.3,300.7L375.7,301.3L376.0,301.9L376.4,302.5L376.8,303.2L377.2,303.8L377.6,304.4L378.0,305.0L378.3,305.7L378.7,306.3L379.1,306.9L379.5,307.5L379.9,308.0L380.3,308.6L380.6,309.2L381.0,309.7L381.4,310.2L381.8,310.8L382.2,311.3L382.6,311.8L382.9,312.3L383.3,312.8L383.7,313.3L384.1,313.8L384.5,314.2L384.9,314.7L385.3,315.1L385.6,315.6L386.0,316.0L386.4,316.4L386.8,316.8L387.2,317.2L387.6,317.5L387.9,317.9L388.3,318.3L388.7,318.6L389.1,319.0L389.5,319.4L389.9,319.7L390.2,320.1L390.6,320.4L391.0,320.8L391.4,321.1L391.8,321.5L392.2,321.8L392.5,322.2L392.9,322.5L393.3,322.9L393.7,323.2L394.1,323.5L394.5,323.8L394.8,324.1L395.2,324.4L395.6,324.7L396.0,325.0L396.4,325.3L396.8,325.6L397.1,325.8L397.5,326.1L397.9,326.3L398.3,326.6L398.7,326.8L399.1,327.1L399.4,327.3L399.8,327.5L400.2,327.7L400.6,327.9" stroke="#0464cc" stroke-width="2.6" fill="none" stroke-linecap="round" stroke-linejoin="round"/>
<g fill="#0464cc"><circle cx="247.2" cy="378.5" r="2.7"/><circle cx="252.3" cy="378.3" r="2.7"/><circle cx="257.4" cy="378.0" r="2.7"/><circle cx="262.5" cy="377.6" r="2.7"/><circle cx="267.6" cy="377.2" r="2.7"/><circle cx="272.7" cy="376.6" r="2.7"/><circle cx="277.8" cy="375.7" r="2.7"/><circle cx="283.0" cy="374.4" r="2.7"/><circle cx="288.1" cy="372.9" r="2.7"/><circle cx="293.2" cy="370.7" r="2.7"/><circle cx="298.3" cy="366.4" r="2.7"/><circle cx="299.5" cy="365.5" r="2.7"/><circle cx="300.8" cy="364.7" r="2.7"/><circle cx="302.0" cy="363.8" r="2.7"/><circle cx="303.2" cy="362.5" r="2.7"/><circle cx="304.4" cy="361.1" r="2.7"/><circle cx="305.7" cy="359.8" r="2.7"/><circle cx="306.9" cy="358.6" r="2.7"/><circle cx="308.1" cy="357.7" r="2.7"/><circle cx="309.3" cy="356.9" r="2.7"/><circle cx="310.6" cy="356.0" r="2.7"/><circle cx="311.8" cy="354.9" r="2.7"/><circle cx="313.0" cy="353.9" r="2.7"/><circle cx="314.3" cy="352.6" r="2.7"/><circle cx="315.5" cy="350.9" r="2.7"/><circle cx="318.6" cy="343.1" r="2.7"/><circle cx="321.1" cy="330.8" r="2.7"/><circle cx="323.5" cy="318.6" r="2.7"/><circle cx="325.9" cy="302.0" r="2.7"/><circle cx="328.2" cy="283.9" r="2.7"/><circle cx="330.9" cy="268.8" r="2.7"/><circle cx="333.5" cy="257.3" r="2.7"/><circle cx="336.3" cy="249.1" r="2.7"/><circle cx="341.1" cy="242.9" r="2.7"/><circle cx="344.2" cy="243.1" r="2.7"/><circle cx="349.5" cy="249.9" r="2.7"/><circle cx="354.6" cy="260.0" r="2.7"/><circle cx="359.7" cy="271.9" r="2.7"/><circle cx="364.8" cy="282.3" r="2.7"/><circle cx="369.9" cy="292.2" r="2.7"/><circle cx="375.0" cy="300.3" r="2.7"/><circle cx="380.1" cy="308.4" r="2.7"/><circle cx="385.3" cy="315.1" r="2.7"/><circle cx="390.4" cy="320.2" r="2.7"/><circle cx="395.5" cy="324.6" r="2.7"/><circle cx="400.6" cy="327.9" r="2.7"/></g>
<rect x="247.15" y="238.4" width="153.45" height="143.80" fill="none" stroke="#000" stroke-width="2"/>
</g>
<text x="246.85" y="396.10" text-anchor="middle" class="n">0</text>
<text x="298.00" y="396.10" text-anchor="middle" class="n">0.5</text>
<text x="349.15" y="396.10" text-anchor="middle" class="n">1</text>
<text x="400.30" y="396.10" text-anchor="middle" class="n">1.5</text>
<text x="240.25" y="386.60" text-anchor="end" class="n">0</text>
<text x="240.25" y="329.08" text-anchor="end" class="n">20</text>
<text x="240.25" y="271.56" text-anchor="end" class="n">40</text>
<text transform="translate(219.55,318.70) rotate(-90)" class="i">ξ<tspan class="s" dy="1.9" dx="2.0">1</tspan></text>
<text x="323.68" y="408.90" text-anchor="middle" class="t">t</text>
<text x="214.55" y="220.60" class="p"><tspan class="pp">(</tspan><tspan dx="0.3">d</tspan><tspan class="pp" dx="0.9">)</tspan></text>
</svg>
</body></html>
